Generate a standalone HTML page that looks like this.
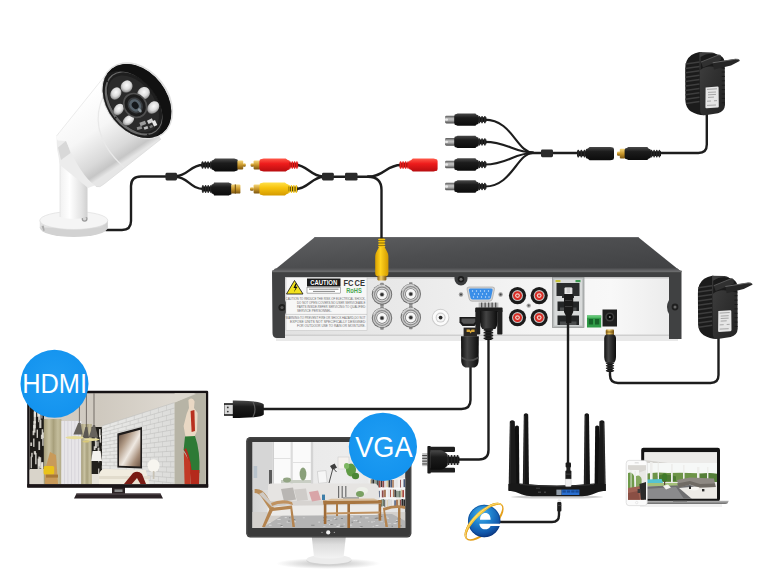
<!DOCTYPE html>
<html>
<head>
<meta charset="utf-8">
<title>DVR connection diagram</title>
<style>
html,body{margin:0;padding:0;background:#fff;}
body{width:762px;height:572px;overflow:hidden;font-family:"Liberation Sans",sans-serif;}
svg{display:block;position:absolute;left:0;top:0;}
</style>
</head>
<body>
<svg width="762" height="572" viewBox="0 0 762 572">
<defs>
  <linearGradient id="dvrTop" x1="0" y1="0" x2="1" y2="1">
    <stop offset="0" stop-color="#5f6062"/>
    <stop offset="0.45" stop-color="#4d4e50"/>
    <stop offset="1" stop-color="#3f4042"/>
  </linearGradient>
  <linearGradient id="silver" x1="0" y1="0" x2="1" y2="0">
    <stop offset="0" stop-color="#e2e2e2"/>
    <stop offset="0.3" stop-color="#e9e9e9"/>
    <stop offset="0.6" stop-color="#f3f3f3"/>
    <stop offset="0.85" stop-color="#f8f8f8"/>
    <stop offset="1" stop-color="#ececec"/>
  </linearGradient>
  <linearGradient id="blk" x1="0" y1="0" x2="0" y2="1">
    <stop offset="0" stop-color="#4a4a4a"/>
    <stop offset="0.35" stop-color="#1c1c1c"/>
    <stop offset="1" stop-color="#0c0c0c"/>
  </linearGradient>
  <linearGradient id="blkH" x1="0" y1="0" x2="1" y2="0">
    <stop offset="0" stop-color="#111"/>
    <stop offset="0.35" stop-color="#444"/>
    <stop offset="1" stop-color="#0c0c0c"/>
  </linearGradient>
  <linearGradient id="redG" x1="0" y1="0" x2="0" y2="1">
    <stop offset="0" stop-color="#ff5a4a"/>
    <stop offset="0.4" stop-color="#ee1c1c"/>
    <stop offset="1" stop-color="#b80d10"/>
  </linearGradient>
  <linearGradient id="yelG" x1="0" y1="0" x2="0" y2="1">
    <stop offset="0" stop-color="#ffe14a"/>
    <stop offset="0.4" stop-color="#f8c40e"/>
    <stop offset="1" stop-color="#d39a00"/>
  </linearGradient>
  <linearGradient id="yelH" x1="0" y1="0" x2="1" y2="0">
    <stop offset="0" stop-color="#d9a000"/>
    <stop offset="0.4" stop-color="#ffd21e"/>
    <stop offset="1" stop-color="#d39a00"/>
  </linearGradient>
  <linearGradient id="goldG" x1="0" y1="0" x2="0" y2="1">
    <stop offset="0" stop-color="#f6d77a"/>
    <stop offset="0.5" stop-color="#c8962a"/>
    <stop offset="1" stop-color="#7a5410"/>
  </linearGradient>
  <linearGradient id="goldH" x1="0" y1="0" x2="1" y2="0">
    <stop offset="0" stop-color="#8a5f12"/>
    <stop offset="0.4" stop-color="#f2cf6a"/>
    <stop offset="1" stop-color="#7a5410"/>
  </linearGradient>
  <linearGradient id="tipG" x1="0" y1="0" x2="0" y2="1">
    <stop offset="0" stop-color="#5a5a5a"/><stop offset="0.4" stop-color="#c4c4c4"/><stop offset="0.6" stop-color="#b0b0b0"/><stop offset="1" stop-color="#4a4a4a"/>
  </linearGradient>
  <radialGradient id="badge" cx="0.5" cy="0.45" r="0.6">
    <stop offset="0" stop-color="#1f9df3"/>
    <stop offset="1" stop-color="#1292ee"/>
  </radialGradient>
</defs>

<rect width="762" height="572" fill="#ffffff"/>


<!-- ================= DVR ================= -->
<g id="dvr">
  <!-- soft shadow below -->
  <rect x="276" y="336" width="402" height="5" fill="#e9e9e9"/>
  <!-- top face -->
  <polygon points="315,237 638,237 681.5,272 272,272" fill="url(#dvrTop)"/>
  <polygon points="315,237 638,237 639,238 314,238" fill="#66676a"/>
  <polygon points="275,268.6 677.6,268.6 681.5,272 272,272" fill="#58595b"/>
  <!-- front dark frame -->
  <path d="M272,271 H681.5 V339 H669 V336 H285 V338 H277 Q272.5,338 272.5,333 Z" fill="#404142"/>
  <rect x="272" y="270.4" width="409.5" height="1.8" fill="#6a6b6c"/>
  <!-- silver panel -->
  <rect x="285" y="277" width="384" height="59" fill="url(#silver)"/>
  <rect x="285" y="277" width="384" height="1.5" fill="#c9c9c9"/>
  <rect x="285" y="334.5" width="384" height="1.5" fill="#cfcfcf"/>
  <!-- side screws -->
  <circle cx="282" cy="307.5" r="3.6" fill="#1f1f1f"/><circle cx="282" cy="307.5" r="1.6" fill="#555"/>
  <circle cx="675" cy="307" r="3.4" fill="#1f1f1f"/><circle cx="675" cy="307" r="1.5" fill="#666"/>
  <path d="M669,300 q-4,7 0,14 Z" fill="#3b3c3d"/>
  <path d="M285,300 q4,7.5 0,15 Z" fill="#3b3c3d"/>

  <!-- label sticker -->
  <rect x="286" y="277.5" width="81" height="53" fill="#f7f7f7" stroke="#bdbdbd" stroke-width="0.5"/>
  <polygon points="294.5,280.5 303,294 286.5,294" fill="#f2e21c" stroke="#222" stroke-width="0.9" stroke-linejoin="round"/>
  <path d="M295.5,283.5 l-2,4.5 h2 l-1.6,4.2 l3.6,-5.4 h-2 l1.5,-3.3 z" fill="#111"/>
  <rect x="307" y="278.5" width="33.5" height="8" fill="#1a1a1a"/>
  <text x="323.7" y="285.3" font-family="Liberation Sans, sans-serif" font-weight="bold" font-size="6.6" fill="#fff" text-anchor="middle" textLength="27" lengthAdjust="spacingAndGlyphs">CAUTION</text>
  <rect x="307" y="287.3" width="33.5" height="5.8" fill="#fff" stroke="#444" stroke-width="0.4"/>
  <g stroke="#555" stroke-width="0.7">
    <line x1="309" y1="289.2" x2="338.5" y2="289.2"/><line x1="313" y1="291.4" x2="335" y2="291.4"/>
  </g>
  <!-- FC CE RoHS -->
  <text x="343.5" y="286.2" font-family="Liberation Sans, sans-serif" font-weight="bold" font-size="8.6" fill="#333" textLength="10" lengthAdjust="spacingAndGlyphs">FC</text>
  <text x="354.5" y="286.2" font-family="Liberation Sans, sans-serif" font-weight="bold" font-size="8.6" fill="#333" textLength="10.4" lengthAdjust="spacingAndGlyphs">CE</text>
  <text x="354" y="293.4" font-family="Liberation Sans, sans-serif" font-weight="bold" font-size="7.6" fill="#4aa651" text-anchor="middle" textLength="15.5" lengthAdjust="spacingAndGlyphs">RoHS</text>
  <!-- small print --><g font-family="Liberation Sans, sans-serif" font-size="3.7" fill="#6c6c6c"><text x="285.6" y="300.4" textLength="80" lengthAdjust="spacingAndGlyphs">CAUTION:TO REDUCE THE RISK OF ELECTRICAL SHOCK,</text><text x="297" y="304.4" textLength="68.4" lengthAdjust="spacingAndGlyphs">DO NOT OPEN COVERS.NO USER SERVICEABLE</text><text x="297" y="308.4" textLength="68.4" lengthAdjust="spacingAndGlyphs">PARTS INSIDE.REFER SERVICING TO QUALIFIED</text><text x="297" y="312.3" textLength="35" lengthAdjust="spacingAndGlyphs">SERVICE PERSONNEL.</text><text x="285.6" y="318.8" textLength="80" lengthAdjust="spacingAndGlyphs">WARNING:TO PREVENT FIRE OR SHOCK HAZARD,DO NOT</text><text x="290" y="322.7" textLength="75.4" lengthAdjust="spacingAndGlyphs">EXPOSE UNITS NOT SPECIFICALLY DESIGNED</text><text x="297" y="326.5" textLength="68.4" lengthAdjust="spacingAndGlyphs">FOR OUTDOOR USE TO RAIN OR MOISTURE.</text></g>
  <line x1="286" y1="314.4" x2="367" y2="314.4" stroke="#aaa" stroke-width="0.5"/>

  <!-- BNC connectors -->
  <g id="bnc"><g transform="translate(382,294.5) scale(1.1)"><rect x="-1.6" y="-10.6" width="3.2" height="3" rx="0.6" fill="#8a8a8a"/><rect x="-1.6" y="7.6" width="3.2" height="3" rx="0.6" fill="#8a8a8a"/><circle r="9.3" fill="#6f6f6f"/><circle r="8.4" fill="#c8c8c8"/><circle r="7.2" fill="#8b8b8b"/><circle r="6.2" fill="#dadada"/><circle r="5.2" fill="#777"/><circle r="4.5" fill="#f7f7f7"/><circle r="2.1" fill="#9a9a9a"/><circle r="1.4" fill="#2e2e2e"/><path d="M-8,-3 A8.5,8.5 0 0 1 3,-8" stroke="#fff" stroke-width="0.9" fill="none" opacity="0.7"/></g><g transform="translate(410.8,294) scale(1.1)"><rect x="-1.6" y="-10.6" width="3.2" height="3" rx="0.6" fill="#8a8a8a"/><rect x="-1.6" y="7.6" width="3.2" height="3" rx="0.6" fill="#8a8a8a"/><circle r="9.3" fill="#6f6f6f"/><circle r="8.4" fill="#c8c8c8"/><circle r="7.2" fill="#8b8b8b"/><circle r="6.2" fill="#dadada"/><circle r="5.2" fill="#777"/><circle r="4.5" fill="#f7f7f7"/><circle r="2.1" fill="#9a9a9a"/><circle r="1.4" fill="#2e2e2e"/><path d="M-8,-3 A8.5,8.5 0 0 1 3,-8" stroke="#fff" stroke-width="0.9" fill="none" opacity="0.7"/></g><g transform="translate(382,318) scale(1.1)"><rect x="-1.6" y="-10.6" width="3.2" height="3" rx="0.6" fill="#8a8a8a"/><rect x="-1.6" y="7.6" width="3.2" height="3" rx="0.6" fill="#8a8a8a"/><circle r="9.3" fill="#6f6f6f"/><circle r="8.4" fill="#c8c8c8"/><circle r="7.2" fill="#8b8b8b"/><circle r="6.2" fill="#dadada"/><circle r="5.2" fill="#777"/><circle r="4.5" fill="#f7f7f7"/><circle r="2.1" fill="#9a9a9a"/><circle r="1.4" fill="#2e2e2e"/><path d="M-8,-3 A8.5,8.5 0 0 1 3,-8" stroke="#fff" stroke-width="0.9" fill="none" opacity="0.7"/></g><g transform="translate(410.8,317.5) scale(1.1)"><rect x="-1.6" y="-10.6" width="3.2" height="3" rx="0.6" fill="#8a8a8a"/><rect x="-1.6" y="7.6" width="3.2" height="3" rx="0.6" fill="#8a8a8a"/><circle r="9.3" fill="#6f6f6f"/><circle r="8.4" fill="#c8c8c8"/><circle r="7.2" fill="#8b8b8b"/><circle r="6.2" fill="#dadada"/><circle r="5.2" fill="#777"/><circle r="4.5" fill="#f7f7f7"/><circle r="2.1" fill="#9a9a9a"/><circle r="1.4" fill="#2e2e2e"/><path d="M-8,-3 A8.5,8.5 0 0 1 3,-8" stroke="#fff" stroke-width="0.9" fill="none" opacity="0.7"/></g></g>
  <!-- white RCA -->
  <g transform="translate(440.6,317.6)">
    <circle r="8.8" fill="#cdcdcd"/><circle r="7.8" fill="#fbfbfb"/><circle r="5" fill="#cfcfcf"/><circle r="3.9" fill="#f6f6f6"/><circle r="1.9" fill="#2b2b2b"/>
  </g>
  <!-- top screw -->
  <path d="M454.5,277 h13 v2 a6.5,6.5 0 0 1 -13,0 z" fill="#3b3c3d"/>
  <circle cx="461" cy="279.3" r="3.2" fill="#1d1d1d"/><circle cx="461" cy="279.3" r="1.5" fill="#6a6a6a"/>
  <!-- VGA port -->
  <circle cx="461" cy="294.5" r="2.2" fill="#9a9a9a"/><circle cx="461" cy="294.5" r="1" fill="#444"/>
  <circle cx="500.6" cy="294.5" r="2.2" fill="#9a9a9a"/><circle cx="500.6" cy="294.5" r="1" fill="#444"/>
  <path d="M469,287 H492.5 Q495,287 494.4,289.5 L492.3,299 Q491.8,301.2 489.5,301.2 H472 Q469.7,301.2 469.2,299 L467.1,289.5 Q466.5,287 469,287 Z" fill="#d4d4d4" stroke="#9c9c9c" stroke-width="0.6"/>
  <path d="M470.3,288.6 H491.2 Q493,288.6 492.6,290.3 L491,297.8 Q490.6,299.6 488.8,299.6 H472.7 Q470.9,299.6 470.5,297.8 L468.9,290.3 Q468.5,288.6 470.3,288.6 Z" fill="#3a8ee8"/>
  <g fill="#cfe4fb">
    <circle cx="472.5" cy="291" r="0.7"/><circle cx="476.5" cy="291" r="0.7"/><circle cx="480.5" cy="291" r="0.7"/><circle cx="484.5" cy="291" r="0.7"/><circle cx="488.5" cy="291" r="0.7"/>
    <circle cx="474.5" cy="294" r="0.7"/><circle cx="478.5" cy="294" r="0.7"/><circle cx="482.5" cy="294" r="0.7"/><circle cx="486.5" cy="294" r="0.7"/>
    <circle cx="473.5" cy="297" r="0.7"/><circle cx="477.5" cy="297" r="0.7"/><circle cx="481.5" cy="297" r="0.7"/><circle cx="485.5" cy="297" r="0.7"/><circle cx="489" cy="297" r="0.7"/>
  </g>
  <!-- HDMI port -->
  <path d="M459.5,317 H477.5 V322.5 L474.5,326 H462.5 L459.5,322.5 Z" fill="#1a1a1a"/>
  <path d="M461.5,318.6 H475.5 V321.5 L473.5,323.8 H463.5 L461.5,321.5 Z" fill="#555"/>
  <!-- red RCA x4 -->
  <g id="rca4">
    <g transform="translate(517.5,295.6)"><circle r="8.6" fill="#1b1b1b"/><circle r="5.5" fill="#c4c4c4"/><circle r="4.4" fill="#d92a22"/><circle r="2.4" fill="#f3cdc7"/><circle r="1.2" fill="#c9372c"/></g>
    <g transform="translate(539.2,295.6)"><circle r="8.6" fill="#1b1b1b"/><circle r="5.5" fill="#c4c4c4"/><circle r="4.4" fill="#d92a22"/><circle r="2.4" fill="#f3cdc7"/><circle r="1.2" fill="#c9372c"/></g>
    <g transform="translate(517.5,317.6)"><circle r="8.6" fill="#1b1b1b"/><circle r="5.5" fill="#c4c4c4"/><circle r="4.4" fill="#d92a22"/><circle r="2.4" fill="#f3cdc7"/><circle r="1.2" fill="#c9372c"/></g>
    <g transform="translate(539.2,317.6)"><circle r="8.6" fill="#1b1b1b"/><circle r="5.5" fill="#c4c4c4"/><circle r="4.4" fill="#d92a22"/><circle r="2.4" fill="#f3cdc7"/><circle r="1.2" fill="#c9372c"/></g>
  </g>
  <circle cx="528.7" cy="305.6" r="2.2" fill="#a8a8a8"/><circle cx="528.7" cy="305.6" r="1" fill="#555"/>
  <!-- ethernet block -->
  <rect x="552.5" y="277.5" width="31.5" height="50" fill="#b9bcbc" stroke="#8e9191" stroke-width="0.7"/>
  <rect x="554.3" y="279.3" width="27.9" height="46.4" fill="#d8dada"/>
  <rect x="555.5" y="280" width="5" height="2.2" fill="#c8c43a"/><rect x="575.5" y="280" width="5" height="2.2" fill="#3d9b52"/>
  <path d="M556.5,283 H579.5 V296 H574 V298 H562 V296 H556.5 Z" fill="#2a2c2d"/>
  <path d="M557.5,301.5 H579 V311 H557.5 Z" fill="#232526"/>
  <path d="M557.5,315.5 H579 V325 H557.5 Z" fill="#232526"/>
  <rect x="560" y="307.5" width="16.5" height="3.5" fill="#4a4c4d"/>
  <rect x="560" y="321.5" width="16.5" height="3.5" fill="#4a4c4d"/>
  <!-- green terminal -->
  <rect x="587" y="315.5" width="14.2" height="12" fill="#2f9a47"/>
  <rect x="587" y="315.5" width="14.2" height="2.2" fill="#5fc573"/>
  <rect x="588.8" y="319" width="4.2" height="5.5" fill="#17632a"/><rect x="595" y="319" width="4.2" height="5.5" fill="#17632a"/>
  <!-- DC jack -->
  <rect x="602.5" y="309.5" width="14.5" height="17" fill="#1f1f1f"/>
  <circle cx="609.8" cy="317" r="4.6" fill="#3c3c3c"/><circle cx="609.8" cy="317" r="3" fill="#0c0c0c"/><circle cx="609.8" cy="317" r="1" fill="#8a8a8a"/>
</g>

<!-- ================= CABLES ================= -->
<g id="cables" fill="none" stroke="#1d1d1d" stroke-width="2.4" stroke-linecap="round" stroke-linejoin="round">
  <!-- camera cable -->
  <path d="M106,230 H122 Q131,230 131,221 V186 Q131,176.5 141,176.5 H167"/>
  <path d="M176,176 C188,176 190,165 203,165"/>
  <path d="M176,177 C188,177 190,189 204,189"/>
  <!-- after red/yellow plugs -->
  <path d="M296,165 C307,165 311,176.5 323,176.5"/>
  <path d="M296,189 C308,189 312,177 323,177"/>
  <path d="M333,176.7 H372"/>
  <path d="M368,176.7 C384,176.7 386,165 401,165"/>
  <path d="M368,176.7 Q381.5,176.7 381.5,190 V240"/>
  <!-- 4 way power splitter -->
  <path d="M485,119.6 C512,119.6 517,152.6 533,152.6" stroke-width="2.1"/>
  <path d="M485,141.9 C507,141.9 514,152.6 533,152.6" stroke-width="2.1"/>
  <path d="M485,164.5 C507,164.5 514,153 533,153" stroke-width="2.1"/>
  <path d="M485,186.5 C512,186.5 517,153 533,153" stroke-width="2.1"/>
  <path d="M528,153 H579"/>
  <!-- adapter 1 cable -->
  <path d="M658,153 H698.4 Q706.8,153 706.8,144.5 V114"/>
  <!-- DVR power cable -->
  <path d="M610,370 V375 Q610,383 618,383 H710.5 Q718.5,383 718.5,375 V338"/>
  <!-- HDMI cable -->
  <path d="M470.5,366 V400 Q470.5,409 461.5,409 H262"/>
  <!-- VGA cable -->
  <path d="M488.5,336 V450 Q488.5,459.5 479,459.5 H458"/>
  <!-- ethernet cable -->
  <path d="M568,305 V465"/>
  <!-- IE cable -->
  <path d="M559,509 V515 Q559,522 552,522 H500"/>
</g>
<!-- PLUGS_START --><!-- ================= PLUGS ================= -->
<g id="plugs">
<rect x="379.4" y="238.4" width="4.6" height="9.4" fill="#8a6a00"/><rect x="378.1" y="238.7" width="7.2" height="1.5" rx="0.9" fill="#f3c20e"/><rect x="378.1" y="241.1" width="7.2" height="1.5" rx="0.9" fill="#f3c20e"/><rect x="378.1" y="243.4" width="7.2" height="1.5" rx="0.9" fill="#f3c20e"/><rect x="378.1" y="245.8" width="7.2" height="1.5" rx="0.9" fill="#f3c20e"/>
<path d="M379,247 L376.4,252 Q375.2,254 375.2,257 L375.2,273 Q375.2,276.2 378,276.2 L385.6,276.2 Q388.4,276.2 388.4,273 L388.4,257 Q388.4,254 387.2,252 L384.6,247 Z" fill="url(#yelH)"/>
<rect x="377.4" y="275.8" width="9" height="4.6" rx="0.8" fill="url(#goldH)"/>
<rect x="564.6" y="287.6" width="7.6" height="8.6" rx="1" fill="#e9e9e9" stroke="#bdbdbd" stroke-width="0.4"/>
<rect x="566.6" y="288" width="3.6" height="5" fill="#cfcfcf"/>
<path d="M564,294 H573.2 V312 L571.4,316 V323 H566 V316 L564,312 Z" fill="#191919"/>
<rect x="565" y="300" width="7.2" height="1" fill="#3c3c3c"/><rect x="565" y="306" width="7.2" height="1" fill="#3c3c3c"/>
<rect x="605.8" y="329.6" width="8.2" height="5.4" rx="0.8" fill="url(#goldH)"/>
<rect x="605.8" y="331.6" width="8.2" height="0.8" fill="#6a4a10"/>
<path d="M606.4,334.4 H613.6 Q616,335 616,338 L616,357 Q616,360 614.4,362.6 H605.8 Q604.2,360 604.2,357 L604.2,338 Q604.2,335 606.4,334.4 Z" fill="url(#blkH)"/>
<rect x="607.3" y="362.2" width="5.4" height="9.8" fill="#111"/><rect x="605.8" y="362.5" width="8.4" height="1.5" rx="0.9" fill="#262626"/><rect x="605.8" y="364.9" width="8.4" height="1.5" rx="0.9" fill="#262626"/><rect x="605.8" y="367.4" width="8.4" height="1.5" rx="0.9" fill="#262626"/><rect x="605.8" y="369.9" width="8.4" height="1.5" rx="0.9" fill="#262626"/>
<rect x="478.6" y="302.6" width="19.8" height="5.4" fill="#bdbdbd"/>
<rect x="481" y="302.6" width="1.3" height="5" fill="#555"/>
<rect x="484.5" y="302.6" width="1.3" height="5" fill="#555"/>
<rect x="488" y="302.6" width="1.3" height="5" fill="#555"/>
<rect x="491.5" y="302.6" width="1.3" height="5" fill="#555"/>
<rect x="495" y="302.6" width="1.3" height="5" fill="#555"/>
<rect x="475.2" y="307.4" width="27.4" height="4.6" rx="1" fill="#1c1c1c"/>
<rect x="475.4" y="310" width="4.8" height="24.4" rx="1.2" fill="#202020"/>
<rect x="497.2" y="310" width="5.2" height="24.6" rx="1.2" fill="#202020"/>
<path d="M480,311 H497.4 V322 Q497.4,326 495.4,329 H482.2 Q480,326 480,322 Z" fill="url(#blkH)"/>
<rect x="485.3" y="328.6" width="6.3" height="11.4" fill="#111"/><rect x="483.5" y="328.9" width="9.8" height="1.8" rx="0.9" fill="#222"/><rect x="483.5" y="331.8" width="9.8" height="1.8" rx="0.9" fill="#222"/><rect x="483.5" y="334.6" width="9.8" height="1.8" rx="0.9" fill="#222"/><rect x="483.5" y="337.4" width="9.8" height="1.8" rx="0.9" fill="#222"/>
<path d="M463.6,327.6 H477 V336.6 H463.6 Z" fill="#2a2724"/>
<path d="M466.6,329.6 h3 l1,1.4 l1,-1.4 h3 v2.4 h-3 l-1,1.4 l-1,-1.4 h-3 z" fill="#d7a63a"/>
<path d="M461,336.2 H478.8 L478.6,361 Q478.4,366 474.6,367.6 H465.4 Q461.4,366 461.2,361 Z" fill="url(#blkH)"/>
<path d="M461.2,356.6 Q470,362 478.6,356.6 L478.6,358.6 Q470,364 461.2,358.6 Z" fill="#4a4a4a"/>
<rect x="224" y="403.2" width="9.4" height="12.6" fill="#1a1a1a"/>
<rect x="224.4" y="404.8" width="8.6" height="9.4" fill="#d9d9d9"/>
<circle cx="227.8" cy="407.4" r="0.9" fill="#333"/><circle cx="227.8" cy="411.6" r="0.9" fill="#333"/>
<path d="M232.8,400.6 Q240,400.4 254,401.6 Q262,402.6 263.8,404.4 L263.8,414.4 Q262,416.4 254,417.2 Q240,418.2 232.8,418 Z" fill="url(#blk)"/>
<path d="M253,402 Q257,409.4 253,417" stroke="#5a5a5a" stroke-width="1.2" fill="none"/>
<rect x="422.2" y="453" width="5.8" height="13.2" fill="#c4c4c4"/>
<rect x="422.2" y="455" width="5" height="1.1" fill="#4a4a4a"/>
<rect x="422.2" y="457.8" width="5" height="1.1" fill="#4a4a4a"/>
<rect x="422.2" y="460.6" width="5" height="1.1" fill="#4a4a4a"/>
<rect x="422.2" y="463.4" width="5" height="1.1" fill="#4a4a4a"/>
<rect x="427.4" y="446" width="3.4" height="27.6" rx="0.8" fill="#1a1a1a"/>
<rect x="430" y="446.8" width="25" height="5.2" rx="1.2" fill="#1e1e1e"/>
<rect x="430" y="467.8" width="25" height="4.8" rx="1.2" fill="#1e1e1e"/>
<path d="M430.4,450.2 H440 Q444,450.4 447.6,454.6 V465.4 Q444,469.6 440,469.8 H430.4 Z" fill="url(#blk)"/>
<rect x="447.2" y="456.7" width="12.2" height="6.5" fill="#111"/><rect x="447.5" y="454.9" width="1.9" height="10.2" rx="0.9" fill="#222"/><rect x="450.6" y="454.9" width="1.9" height="10.2" rx="0.9" fill="#222"/><rect x="453.6" y="454.9" width="1.9" height="10.2" rx="0.9" fill="#222"/><rect x="456.6" y="454.9" width="1.9" height="10.2" rx="0.9" fill="#222"/>
</g><!-- PLUGS_END -->
<!-- CONN_START --><!-- ================= CONNECTORS ================= -->
<g id="connectors">
<rect x="165.5" y="172.8" width="11.5" height="7.6" rx="1.4" fill="#2a2a2a"/>
<rect x="322" y="172.8" width="11.8" height="7.6" rx="1.4" fill="#2a2a2a"/>
<rect x="345" y="172.8" width="12.5" height="7.8" rx="1.4" fill="#2a2a2a"/>
<rect x="541" y="149.4" width="12" height="7.8" rx="1.4" fill="#2a2a2a"/>
<rect x="201.4" y="162.6" width="11.0" height="4.7" fill="#111"/><rect x="201.7" y="161.3" width="1.7" height="7.4" rx="0.9" fill="#262626"/><rect x="204.5" y="161.3" width="1.7" height="7.4" rx="0.9" fill="#262626"/><rect x="207.2" y="161.3" width="1.7" height="7.4" rx="0.9" fill="#262626"/><rect x="210.0" y="161.3" width="1.7" height="7.4" rx="0.9" fill="#262626"/>
<path d="M213.4,160.0 L215.0,158.6 L234.2,158.6 L235.8,159.1 Q238.0,159.1 238.0,161.3 L238.0,168.7 Q238.0,170.9 235.8,170.9 L234.2,171.4 L215.0,171.4 L213.4,170.0 Q211.2,170.0 211.2,167.8 L211.2,162.2 Q211.2,160.0 213.4,160.0 Z" fill="url(#blk)"/>
<rect x="237.4" y="160.6" width="5.8" height="8.8" rx="1" fill="url(#goldG)"/>
<rect x="242.8" y="163.2" width="3" height="3.6" rx="1.2" fill="url(#goldG)"/>
<rect x="201.8" y="186.4" width="10.6" height="5.1" fill="#111"/><rect x="202.1" y="185.0" width="1.6" height="8.0" rx="0.9" fill="#262626"/><rect x="204.8" y="185.0" width="1.6" height="8.0" rx="0.9" fill="#262626"/><rect x="207.4" y="185.0" width="1.6" height="8.0" rx="0.9" fill="#262626"/><rect x="210.1" y="185.0" width="1.6" height="8.0" rx="0.9" fill="#262626"/>
<path d="M213.4,184.0 L214.1,182.6 L228.9,182.6 L229.6,183.0 Q231.8,183.0 231.8,185.2 L231.8,192.8 Q231.8,195.0 229.6,195.0 L228.9,195.4 L214.1,195.4 L213.4,194.0 Q211.2,194.0 211.2,191.8 L211.2,186.2 Q211.2,184.0 213.4,184.0 Z" fill="url(#blk)"/>
<rect x="231.2" y="184.4" width="9.2" height="9.2" rx="1.2" fill="url(#goldG)"/>
<rect x="234.8" y="184.4" width="1" height="9.2" fill="#6a4a10"/>
<rect x="250.6" y="163.2" width="3.6" height="3.6" rx="1.2" fill="url(#goldG)"/>
<rect x="253.6" y="160.6" width="6.4" height="8.8" rx="1" fill="url(#goldG)"/>
<path d="M261.6,159.0 L263.7,158.4 L285.7,158.4 L287.8,160.0 Q290.0,160.0 290.0,162.2 L290.0,167.8 Q290.0,170.0 287.8,170.0 L285.7,171.6 L263.7,171.6 L261.6,171.0 Q259.4,171.0 259.4,168.8 L259.4,161.2 Q259.4,159.0 261.6,159.0 Z" fill="url(#redG)"/>
<rect x="289.0" y="162.6" width="9.2" height="4.9" fill="#9c0c0c"/><rect x="289.3" y="161.2" width="1.4" height="7.6" rx="0.9" fill="#e8201c"/><rect x="291.6" y="161.2" width="1.4" height="7.6" rx="0.9" fill="#e8201c"/><rect x="293.9" y="161.2" width="1.4" height="7.6" rx="0.9" fill="#e8201c"/><rect x="296.2" y="161.2" width="1.4" height="7.6" rx="0.9" fill="#e8201c"/>
<rect x="250" y="187.2" width="3.8" height="3.6" rx="1.2" fill="url(#goldG)"/>
<rect x="253.6" y="184.4" width="6.4" height="9.2" rx="1" fill="url(#goldG)"/>
<path d="M261.6,183.0 L263.5,182.4 L284.9,182.4 L286.8,184.0 Q289.0,184.0 289.0,186.2 L289.0,191.8 Q289.0,194.0 286.8,194.0 L284.9,195.6 L263.5,195.6 L261.6,195.0 Q259.4,195.0 259.4,192.8 L259.4,185.2 Q259.4,183.0 261.6,183.0 Z" fill="url(#yelG)"/>
<rect x="288.0" y="186.5" width="9.6" height="5.0" fill="#3a2c00"/><rect x="288.3" y="185.1" width="1.5" height="7.8" rx="0.9" fill="#f3c20e"/><rect x="290.7" y="185.1" width="1.5" height="7.8" rx="0.9" fill="#f3c20e"/><rect x="293.1" y="185.1" width="1.5" height="7.8" rx="0.9" fill="#f3c20e"/><rect x="295.5" y="185.1" width="1.5" height="7.8" rx="0.9" fill="#f3c20e"/>
<rect x="399.5" y="162.6" width="10.0" height="4.9" fill="#9c0c0c"/><rect x="399.8" y="161.2" width="1.6" height="7.6" rx="0.9" fill="#e8201c"/><rect x="402.3" y="161.2" width="1.6" height="7.6" rx="0.9" fill="#e8201c"/><rect x="404.8" y="161.2" width="1.6" height="7.6" rx="0.9" fill="#e8201c"/><rect x="407.3" y="161.2" width="1.6" height="7.6" rx="0.9" fill="#e8201c"/>
<path d="M411.0,160.3 L412.8,158.5 L433.6,158.5 L435.4,158.9 Q437.6,158.9 437.6,161.1 L437.6,168.9 Q437.6,171.1 435.4,171.1 L433.6,171.5 L412.8,171.5 L411.0,169.7 Q408.8,169.7 408.8,167.5 L408.8,162.5 Q408.8,160.3 411.0,160.3 Z" fill="url(#redG)"/>
<rect x="445" y="115.8" width="10.4" height="7.6" rx="1.4" fill="url(#tipG)"/>
<rect x="445" y="118.39999999999999" width="3" height="2.4" rx="1" fill="#e8e8e8"/>
<path d="M456.4,114.0 L457.6,113.4 L475.4,113.4 L476.6,114.8 Q478.8,114.8 478.8,117.0 L478.8,122.2 Q478.8,124.4 476.6,124.4 L475.4,125.8 L457.6,125.8 L456.4,125.2 Q454.2,125.2 454.2,123.0 L454.2,116.2 Q454.2,114.0 456.4,114.0 Z" fill="url(#blk)"/>
<rect x="478.2" y="117.2" width="8.2" height="4.7" fill="#111"/><rect x="478.5" y="115.9" width="1.7" height="7.4" rx="0.9" fill="#262626"/><rect x="481.2" y="115.9" width="1.7" height="7.4" rx="0.9" fill="#262626"/><rect x="484.0" y="115.9" width="1.7" height="7.4" rx="0.9" fill="#262626"/>
<rect x="445" y="138.1" width="10.4" height="7.6" rx="1.4" fill="url(#tipG)"/>
<rect x="445" y="140.70000000000002" width="3" height="2.4" rx="1" fill="#e8e8e8"/>
<path d="M456.4,136.3 L457.6,135.7 L475.4,135.7 L476.6,137.1 Q478.8,137.1 478.8,139.3 L478.8,144.5 Q478.8,146.7 476.6,146.7 L475.4,148.1 L457.6,148.1 L456.4,147.5 Q454.2,147.5 454.2,145.3 L454.2,138.5 Q454.2,136.3 456.4,136.3 Z" fill="url(#blk)"/>
<rect x="478.2" y="139.5" width="8.2" height="4.7" fill="#111"/><rect x="478.5" y="138.2" width="1.7" height="7.4" rx="0.9" fill="#262626"/><rect x="481.2" y="138.2" width="1.7" height="7.4" rx="0.9" fill="#262626"/><rect x="484.0" y="138.2" width="1.7" height="7.4" rx="0.9" fill="#262626"/>
<rect x="445" y="160.7" width="10.4" height="7.6" rx="1.4" fill="url(#tipG)"/>
<rect x="445" y="163.3" width="3" height="2.4" rx="1" fill="#e8e8e8"/>
<path d="M456.4,158.9 L457.6,158.3 L475.4,158.3 L476.6,159.7 Q478.8,159.7 478.8,161.9 L478.8,167.1 Q478.8,169.3 476.6,169.3 L475.4,170.7 L457.6,170.7 L456.4,170.1 Q454.2,170.1 454.2,167.9 L454.2,161.1 Q454.2,158.9 456.4,158.9 Z" fill="url(#blk)"/>
<rect x="478.2" y="162.1" width="8.2" height="4.7" fill="#111"/><rect x="478.5" y="160.8" width="1.7" height="7.4" rx="0.9" fill="#262626"/><rect x="481.2" y="160.8" width="1.7" height="7.4" rx="0.9" fill="#262626"/><rect x="484.0" y="160.8" width="1.7" height="7.4" rx="0.9" fill="#262626"/>
<rect x="445" y="182.7" width="10.4" height="7.6" rx="1.4" fill="url(#tipG)"/>
<rect x="445" y="185.3" width="3" height="2.4" rx="1" fill="#e8e8e8"/>
<path d="M456.4,180.9 L457.6,180.3 L475.4,180.3 L476.6,181.7 Q478.8,181.7 478.8,183.9 L478.8,189.1 Q478.8,191.3 476.6,191.3 L475.4,192.7 L457.6,192.7 L456.4,192.1 Q454.2,192.1 454.2,189.9 L454.2,183.1 Q454.2,180.9 456.4,180.9 Z" fill="url(#blk)"/>
<rect x="478.2" y="184.1" width="8.2" height="4.7" fill="#111"/><rect x="478.5" y="182.8" width="1.7" height="7.4" rx="0.9" fill="#262626"/><rect x="481.2" y="182.8" width="1.7" height="7.4" rx="0.9" fill="#262626"/><rect x="484.0" y="182.8" width="1.7" height="7.4" rx="0.9" fill="#262626"/>
<rect x="577.0" y="151.2" width="9.4" height="4.9" fill="#111"/><rect x="577.3" y="149.8" width="1.9" height="7.6" rx="0.9" fill="#262626"/><rect x="580.4" y="149.8" width="1.9" height="7.6" rx="0.9" fill="#262626"/><rect x="583.6" y="149.8" width="1.9" height="7.6" rx="0.9" fill="#262626"/>
<path d="M587.8,148.5 L589.6,146.9 L610.0,146.9 L611.8,147.2 Q614.0,147.2 614.0,149.4 L614.0,157.8 Q614.0,160.0 611.8,160.0 L610.0,160.3 L589.6,160.3 L587.8,158.7 Q585.6,158.7 585.6,156.5 L585.6,150.7 Q585.6,148.5 587.8,148.5 Z" fill="url(#blk)"/>
<rect x="617" y="151.6" width="3.6" height="4.2" rx="1.2" fill="url(#goldG)"/>
<rect x="619.8" y="148.8" width="5.4" height="9.8" rx="1" fill="url(#goldG)"/>
<path d="M626.8,147.9 L628.3,147.1 L647.3,147.1 L648.8,148.7 Q651.0,148.7 651.0,150.9 L651.0,156.3 Q651.0,158.5 648.8,158.5 L647.3,160.1 L628.3,160.1 L626.8,159.3 Q624.6,159.3 624.6,157.1 L624.6,150.1 Q624.6,147.9 626.8,147.9 Z" fill="url(#blk)"/>
<rect x="650.4" y="151.2" width="10.6" height="4.9" fill="#111"/><rect x="650.7" y="149.8" width="1.6" height="7.6" rx="0.9" fill="#262626"/><rect x="653.3" y="149.8" width="1.6" height="7.6" rx="0.9" fill="#262626"/><rect x="656.0" y="149.8" width="1.6" height="7.6" rx="0.9" fill="#262626"/><rect x="658.6" y="149.8" width="1.6" height="7.6" rx="0.9" fill="#262626"/>
</g><!-- CONN_END -->
<!-- CAM_START --><!-- ================= CAMERA ================= -->
<g id="camera">
  <defs>
    <linearGradient id="camBody" gradientUnits="userSpaceOnUse" x1="85" y1="95" x2="128" y2="160">
      <stop offset="0" stop-color="#ffffff"/>
      <stop offset="0.45" stop-color="#f6f6f6"/>
      <stop offset="0.8" stop-color="#d9d9d9"/>
      <stop offset="0.93" stop-color="#c6c6c6"/>
      <stop offset="1" stop-color="#e6e6e6"/>
    </linearGradient>
    <linearGradient id="camArm" x1="0" y1="0" x2="1" y2="0">
      <stop offset="0" stop-color="#f1f1f1"/>
      <stop offset="0.35" stop-color="#ffffff"/>
      <stop offset="0.8" stop-color="#e2e2e2"/>
      <stop offset="1" stop-color="#cfcfcf"/>
    </linearGradient>
    <linearGradient id="camBase" x1="0" y1="0" x2="1" y2="0">
      <stop offset="0" stop-color="#e0e0e0"/>
      <stop offset="0.3" stop-color="#f4f4f4"/>
      <stop offset="0.75" stop-color="#e6e6e6"/>
      <stop offset="1" stop-color="#cdcdcd"/>
    </linearGradient>
    <clipPath id="hoodclip"><ellipse cx="137" cy="101" rx="41" ry="29.6"/></clipPath>
    <radialGradient id="led" cx="0.45" cy="0.4" r="0.6">
      <stop offset="0" stop-color="#fbfbfb"/>
      <stop offset="0.55" stop-color="#dcdcdc"/>
      <stop offset="0.85" stop-color="#a4a4a4"/>
      <stop offset="1" stop-color="#5a5a5a"/>
    </radialGradient>
  </defs>
  <!-- base -->
  <ellipse cx="73.8" cy="227.5" rx="34" ry="9.5" fill="#d2d2d2"/>
  <rect x="39.8" y="220.5" width="68" height="7" fill="url(#camBase)"/>
  <ellipse cx="73.8" cy="220.5" rx="34" ry="9" fill="#f5f5f5" stroke="#dadada" stroke-width="0.6"/>
  <circle cx="84.6" cy="218.8" r="3" fill="#9b9b9b"/><circle cx="84.6" cy="218.8" r="1.7" fill="#d6d6d6"/>
  <path d="M41.5,226 l2,5 l1.2,-0.4 l-1,-5 z" fill="#aaa"/>
  <!-- arm -->
  <path d="M60,160 L60,217 Q73.5,221 87.5,217 L87.5,184 Z" fill="url(#camArm)"/>
  <path d="M60,160 L60,217" stroke="#e2e2e2" stroke-width="0.8" fill="none"/>
  <!-- bracket under body -->
  <path d="M56.5,136 L57,148.5 L60,165 L88,188 L104,182 L70,140 Z" fill="#ececec"/>
  <path d="M58,147.5 L66.5,140.5 L70.5,153 L61,160 Z" fill="#d8d8d8"/>
  <!-- body -->
  <path d="M105.5,75 L56.5,136 Q56,139 58,140.5 L66,141 Q80,175 96,186.5 Q100,188 104,184 L161,139 L137,101 Z" fill="url(#camBody)"/>
  <path d="M105.5,75 L56.5,136" stroke="#e6e6e6" stroke-width="0.8" fill="none"/>
  <path d="M96,186.5 Q100,188 104,184 L161,139" stroke="#dcdcdc" stroke-width="0.8" fill="none"/>
  <!-- seam line on body -->
  <path d="M103,97 Q96,112 99,128 Q104,150 124,167" stroke="#e9e9e9" stroke-width="1.2" fill="none"/>
  <!-- hood / ring -->
  <g transform="rotate(52 137 101)">
    <ellipse cx="137" cy="100.6" rx="42.4" ry="31.2" fill="#dedede"/>
    <ellipse cx="137" cy="101" rx="41" ry="29.6" fill="#1b1b1b"/>
    <ellipse cx="137" cy="105" rx="36" ry="24" fill="#6a6a6a"/>
    <ellipse cx="137" cy="104.2" rx="34.8" ry="22.2" fill="#1e1e1e"/>
    <ellipse cx="137" cy="105.6" rx="32.4" ry="20.4" fill="#2a2a2a"/>
    <path fill-rule="evenodd" fill="#111" d="M96,101 A41,29.6 0 1 0 178,101 A41,29.6 0 1 0 96,101 Z M97.5,109.5 A39.5,27 0 1 0 176.5,109.5 A39.5,27 0 1 0 97.5,109.5 Z" clip-path="url(#hoodclip)"/>
    <circle cx="103.4" cy="112" r="0.9" fill="#222"/><circle cx="137" cy="128" r="0.9" fill="#222"/><circle cx="170" cy="113" r="0.9" fill="#222"/>
  </g>
  <!-- LEDs -->
  <g>
    <ellipse cx="126.6" cy="86.6" rx="5.8" ry="6.4" fill="url(#led)" transform="rotate(30 126.6 86.6)"/>
    <ellipse cx="115.8" cy="93.6" rx="5.2" ry="6.6" fill="url(#led)" transform="rotate(30 115.8 93.6)"/>
    <ellipse cx="143.6" cy="93.4" rx="6" ry="6.8" fill="url(#led)" transform="rotate(40 143.6 93.4)"/>
    <ellipse cx="153.2" cy="107.6" rx="5.4" ry="7" fill="url(#led)" transform="rotate(40 153.2 107.6)"/>
    <ellipse cx="118.6" cy="109.6" rx="4.6" ry="6.4" fill="url(#led)" transform="rotate(35 118.6 109.6)"/>
    <ellipse cx="128.4" cy="120.4" rx="4.4" ry="6.6" fill="url(#led)" transform="rotate(50 128.4 120.4)"/>
  </g>
  <!-- lens -->
  <g transform="rotate(52 135.2 105.4)">
    <ellipse cx="135.2" cy="105.4" rx="13.4" ry="11.6" fill="#505050"/>
    <ellipse cx="135.2" cy="105.4" rx="11.6" ry="10" fill="#1c1c1c"/>
    <ellipse cx="135.2" cy="105.4" rx="8.4" ry="7.2" fill="#3a3d40"/>
    <ellipse cx="135.2" cy="105.4" rx="6.6" ry="5.6" fill="#56626a"/>
    <ellipse cx="135.2" cy="105.4" rx="3.8" ry="3.2" fill="#15181a"/>
  </g>
  <ellipse cx="139.8" cy="110.4" rx="2.4" ry="1.4" fill="#8a949a" transform="rotate(50 139.8 110.4)"/>
  <!-- PCB bits -->
  <g fill="#9c9c9c">
    <rect x="140" y="121.6" width="6" height="3.6" transform="rotate(-20 143 124)"/>
    <rect x="147.4" y="119.4" width="5.4" height="3.8" fill="#d2d2d2" transform="rotate(-25 150 121)"/>
    <rect x="152.6" y="120.6" width="3.6" height="5.6" fill="#e6e6e6" transform="rotate(-25 154 123)"/>
    <rect x="137" y="126.4" width="5" height="2.8" fill="#8a8a8a" transform="rotate(-15 140 128)"/>
    <rect x="144" y="126.6" width="4" height="2.6" fill="#bdbdbd" transform="rotate(-20 146 128)"/>
    <rect x="149.4" y="125.4" width="3" height="2.4" fill="#777" transform="rotate(-25 151 126)"/>
  </g>
</g>
<!-- CAM_END -->
<!-- ADP_START --><!-- ================= ADAPTERS ================= -->
<defs>
  <linearGradient id="adpFront" x1="0" y1="0" x2="1" y2="1">
    <stop offset="0" stop-color="#404040"/>
    <stop offset="0.5" stop-color="#303030"/>
    <stop offset="1" stop-color="#242424"/>
  </linearGradient>
  <g id="adapter">
    <!-- side (ribbed) -->
    <path d="M699.5,52 Q690,53.5 686.6,61 Q685.2,64 685.2,70 L685.4,101 Q685.8,108 691,111.5 Q697,115.2 704,115.2 L702,52.2 Z" fill="#1b1b1b"/>
    <g stroke="#3e3e3e" stroke-width="1.5">
      <line x1="685.6" y1="64" x2="699.5" y2="62"/><line x1="685.4" y1="68.4" x2="699.5" y2="66.4"/><line x1="685.4" y1="72.8" x2="699.5" y2="70.8"/>
      <line x1="685.4" y1="77.2" x2="699.5" y2="75.2"/><line x1="685.4" y1="81.6" x2="699.5" y2="79.6"/><line x1="685.4" y1="86" x2="699.5" y2="84"/>
      <line x1="685.4" y1="90.4" x2="699.5" y2="88.4"/><line x1="685.4" y1="94.8" x2="699.5" y2="92.8"/><line x1="685.4" y1="99.2" x2="699.5" y2="97.2"/>
      <line x1="686" y1="103.6" x2="699.5" y2="101.6"/>
    </g>
    <!-- front face -->
    <path d="M699.4,52 L712,52.4 Q717,53 718,57 L724.8,68 L725,105 Q724.6,111.6 718,113.2 L705,115.2 Q700.5,115.4 700.2,111 Z" fill="url(#adpFront)"/>
    <g stroke="#1a1a1a" stroke-width="1">
      <line x1="721.8" y1="72" x2="724.8" y2="72"/><line x1="721.8" y1="76.4" x2="724.8" y2="76.4"/><line x1="721.8" y1="80.8" x2="724.8" y2="80.8"/>
      <line x1="721.8" y1="85.2" x2="724.8" y2="85.2"/><line x1="721.8" y1="89.6" x2="724.8" y2="89.6"/><line x1="721.8" y1="94" x2="724.8" y2="94"/>
      <line x1="721.8" y1="98.4" x2="724.8" y2="98.4"/><line x1="721.8" y1="102.8" x2="724.8" y2="102.8"/>
    </g>
    <!-- prong pedestal + prongs -->
    <path d="M700.5,57 Q707,52.5 716,54 Q724.5,56 724.6,62 L724.6,69 Q716,66 709,66.5 Q703,67 700.5,70 Z" fill="#1a1a1a"/>
    <path d="M701,62 L718.5,55 Q721,54.8 721.2,57 L721,60 L703,67.4 Z" fill="#303030"/>
    <path d="M701,62 L718.5,55 Q720.4,54.8 721,56" stroke="#5c5c5c" stroke-width="0.9" fill="none"/>
    <path d="M712.6,62.6 L735.5,59 Q740,58.8 739.6,61 L731,65.4 L714,69.6 Z" fill="#262626"/>
    <path d="M712.6,62.8 L735.5,59.2 Q738.6,59 739.6,60.4" stroke="#666" stroke-width="1" fill="none"/>
    <!-- label -->
    <path d="M705.6,87.4 L717.6,86.6 Q718.6,86.6 718.6,87.6 L718.8,106.4 Q718.8,107.4 717.8,107.5 L706.4,108.2 Q705.4,108.2 705.4,107.2 Z" fill="#e6e6e6"/>
    <g stroke="#8a8a8a" stroke-width="0.7">
      <line x1="707" y1="89.4" x2="717" y2="88.8"/><line x1="708" y1="92.4" x2="716" y2="92"/><line x1="708" y1="94.8" x2="716" y2="94.4"/>
      <line x1="708" y1="97.4" x2="714" y2="97.1"/><line x1="707" y1="101.2" x2="711" y2="101"/><line x1="714" y1="100.8" x2="717" y2="100.6"/>
      <line x1="707" y1="105.4" x2="716" y2="105"/>
    </g>
  </g>
</defs>
<use href="#adapter"/>
<use href="#adapter" transform="translate(12.7,223.7)"/>
<!-- ADP_END -->
<!-- TV_START --><!-- ================= TV ================= -->
<g id="tv">
<defs>
<clipPath id="tvclip"><rect x="29.6" y="393.2" width="176.2" height="91"/></clipPath>
<linearGradient id="tvCeil" x1="0" y1="0" x2="1" y2="0"><stop offset="0" stop-color="#d6d1c9"/><stop offset="0.4" stop-color="#cfc9bf"/><stop offset="0.8" stop-color="#ddd8d0"/><stop offset="1" stop-color="#d6d1c8"/></linearGradient>
<linearGradient id="tvCurt" x1="0" y1="0" x2="1" y2="0"><stop offset="0" stop-color="#a49c78"/><stop offset="0.3" stop-color="#c9c2a2"/><stop offset="0.55" stop-color="#a8a07c"/><stop offset="0.8" stop-color="#c4bd9c"/><stop offset="1" stop-color="#b1a985"/></linearGradient>
<linearGradient id="tvBrick" x1="0" y1="0" x2="1" y2="0"><stop offset="0" stop-color="#e9e9e7"/><stop offset="1" stop-color="#dcdcda"/></linearGradient>
<linearGradient id="tvPic" x1="0" y1="0" x2="1" y2="1"><stop offset="0" stop-color="#5a4436"/><stop offset="0.3" stop-color="#b09a86"/><stop offset="0.55" stop-color="#efe9e2"/><stop offset="0.8" stop-color="#a58c78"/><stop offset="1" stop-color="#6e5646"/></linearGradient>
</defs>
<path d="M112,487 H125 V494 H112 Z" fill="#2a2224"/>
<rect x="114.5" y="489.4" width="8" height="2.6" fill="#8a8a8a"/>
<path d="M76.5,493.6 H160.5 L163,498.6 H74 Z" fill="#2b2326"/>
<path d="M76.5,493.6 H160.5 L161,494.6 H76 Z" fill="#5a5054"/>
<rect x="27.2" y="390.8" width="181" height="96.8" rx="1.2" fill="#161214"/>
<g clip-path="url(#tvclip)">
<rect x="29" y="393" width="178" height="92" fill="url(#tvCeil)"/>
<rect x="29" y="470" width="178" height="15" fill="#e6e2da"/>
<rect x="29.6" y="406" width="14.4" height="63" fill="#1d1b18"/>
<rect x="33.1" y="438.5" width="1.4" height="8.4" fill="#e9e6df" opacity="0.85"/>
<rect x="38.1" y="411.7" width="0.8" height="10.5" fill="#e9e6df" opacity="0.85"/>
<rect x="33.4" y="421.1" width="2.4" height="7.2" fill="#e9e6df" opacity="0.85"/>
<rect x="40.9" y="434.7" width="1.8" height="4.4" fill="#e9e6df" opacity="0.85"/>
<rect x="38.3" y="456.6" width="1.6" height="9.7" fill="#e9e6df" opacity="0.85"/>
<rect x="38.7" y="411.6" width="2.0" height="8.3" fill="#e9e6df" opacity="0.85"/>
<rect x="33.9" y="409.7" width="2.2" height="7.3" fill="#e9e6df" opacity="0.85"/>
<rect x="39.3" y="457.2" width="1.9" height="11.3" fill="#e9e6df" opacity="0.85"/>
<rect x="35.1" y="452.9" width="1.5" height="11.4" fill="#e9e6df" opacity="0.85"/>
<rect x="41.4" y="413.5" width="1.0" height="5.0" fill="#e9e6df" opacity="0.85"/>
<rect x="42.6" y="432.4" width="1.8" height="5.7" fill="#e9e6df" opacity="0.85"/>
<rect x="36.6" y="429.6" width="1.4" height="8.3" fill="#e9e6df" opacity="0.85"/>
<rect x="37.6" y="458.6" width="1.9" height="11.4" fill="#e9e6df" opacity="0.85"/>
<rect x="41.1" y="463.5" width="1.9" height="4.5" fill="#e9e6df" opacity="0.85"/>
<rect x="41.2" y="462.0" width="2.2" height="8.1" fill="#e9e6df" opacity="0.85"/>
<rect x="39.3" y="419.8" width="2.1" height="8.2" fill="#e9e6df" opacity="0.85"/>
<rect x="33.7" y="411.6" width="2.2" height="11.9" fill="#e9e6df" opacity="0.85"/>
<rect x="31.2" y="452.8" width="1.5" height="4.4" fill="#e9e6df" opacity="0.85"/>
<rect x="33.8" y="451.1" width="2.2" height="3.4" fill="#e9e6df" opacity="0.85"/>
<rect x="38.0" y="410.5" width="1.9" height="6.0" fill="#e9e6df" opacity="0.85"/>
<rect x="41.5" y="462.9" width="1.6" height="12.0" fill="#e9e6df" opacity="0.85"/>
<rect x="34.0" y="412.3" width="1.8" height="3.3" fill="#e9e6df" opacity="0.85"/>
<rect x="32.6" y="430.8" width="1.8" height="4.4" fill="#e9e6df" opacity="0.85"/>
<rect x="30.6" y="456.6" width="1.3" height="11.6" fill="#e9e6df" opacity="0.85"/>
<rect x="41.7" y="429.2" width="1.5" height="7.7" fill="#e9e6df" opacity="0.85"/>
<rect x="38.4" y="441.4" width="1.7" height="8.6" fill="#e9e6df" opacity="0.85"/>
<rect x="42.2" y="436.4" width="1.5" height="9.5" fill="#e9e6df" opacity="0.85"/>
<rect x="33.1" y="424.9" width="2.4" height="7.7" fill="#e9e6df" opacity="0.85"/>
<rect x="37.1" y="408.6" width="1.5" height="8.2" fill="#e9e6df" opacity="0.85"/>
<rect x="30.3" y="442.5" width="1.8" height="3.5" fill="#e9e6df" opacity="0.85"/>
<rect x="29.6" y="393" width="15" height="13.5" fill="#cfcbc4"/>
<rect x="29.6" y="469" width="15" height="16" fill="#d9d4ca"/>
<rect x="43.8" y="419" width="17.6" height="66" fill="url(#tvCurt)"/>
<rect x="61.4" y="421" width="20" height="64" fill="#e7e5e8"/>
<rect x="64" y="421" width="0.8" height="64" fill="#d5d2d8"/>
<rect x="67.5" y="421" width="0.8" height="64" fill="#d5d2d8"/>
<rect x="71" y="421" width="0.8" height="64" fill="#d5d2d8"/>
<rect x="74.5" y="421" width="0.8" height="64" fill="#d5d2d8"/>
<rect x="78" y="421" width="0.8" height="64" fill="#d5d2d8"/>
<rect x="81.2" y="424" width="10.6" height="61" fill="url(#tvCurt)"/>
<rect x="91.6" y="427" width="10.4" height="47" fill="#22201c"/>
<rect x="97.6" y="447.6" width="1.8" height="5.5" fill="#e9e6df" opacity="0.85"/>
<rect x="98.4" y="459.0" width="0.8" height="3.4" fill="#e9e6df" opacity="0.85"/>
<rect x="98.1" y="468.5" width="1.2" height="6.2" fill="#e9e6df" opacity="0.85"/>
<rect x="97.3" y="441.4" width="1.3" height="5.2" fill="#e9e6df" opacity="0.85"/>
<rect x="95.3" y="453.0" width="1.2" height="5.6" fill="#e9e6df" opacity="0.85"/>
<rect x="99.0" y="429.1" width="1.6" height="8.1" fill="#e9e6df" opacity="0.85"/>
<rect x="94.8" y="437.3" width="1.9" height="4.7" fill="#e9e6df" opacity="0.85"/>
<rect x="93.7" y="446.3" width="1.8" height="3.7" fill="#e9e6df" opacity="0.85"/>
<rect x="94.9" y="442.0" width="2.0" height="6.1" fill="#e9e6df" opacity="0.85"/>
<rect x="99.7" y="435.1" width="1.3" height="7.6" fill="#e9e6df" opacity="0.85"/>
<path d="M45,470 L50,452 L56,455 L58,484 H45 Z" fill="#c89a5a"/>
<rect x="43.6" y="466" width="10.6" height="8.6" rx="1.5" fill="#e9c21a"/>
<rect x="46" y="474.6" width="12" height="3" fill="#a87838"/>
<polygon points="102,426 174.6,402.6 174.6,486 102,486" fill="url(#tvBrick)"/>
<line x1="102" y1="426.0" x2="174.6" y2="402.6" stroke="#b8b8b6" stroke-width="0.5"/>
<line x1="102" y1="429.3" x2="174.6" y2="408.0" stroke="#b8b8b6" stroke-width="0.5"/>
<line x1="102" y1="432.6" x2="174.6" y2="413.4" stroke="#b8b8b6" stroke-width="0.5"/>
<line x1="102" y1="435.9" x2="174.6" y2="418.7" stroke="#b8b8b6" stroke-width="0.5"/>
<line x1="102" y1="439.2" x2="174.6" y2="424.1" stroke="#b8b8b6" stroke-width="0.5"/>
<line x1="102" y1="442.5" x2="174.6" y2="429.5" stroke="#b8b8b6" stroke-width="0.5"/>
<line x1="102" y1="445.8" x2="174.6" y2="434.9" stroke="#b8b8b6" stroke-width="0.5"/>
<line x1="102" y1="449.1" x2="174.6" y2="440.2" stroke="#b8b8b6" stroke-width="0.5"/>
<line x1="102" y1="452.4" x2="174.6" y2="445.6" stroke="#b8b8b6" stroke-width="0.5"/>
<line x1="102" y1="455.6" x2="174.6" y2="451.0" stroke="#b8b8b6" stroke-width="0.5"/>
<line x1="102" y1="458.9" x2="174.6" y2="456.4" stroke="#b8b8b6" stroke-width="0.5"/>
<line x1="102" y1="462.2" x2="174.6" y2="461.7" stroke="#b8b8b6" stroke-width="0.5"/>
<line x1="102" y1="465.5" x2="174.6" y2="467.1" stroke="#b8b8b6" stroke-width="0.5"/>
<line x1="102" y1="468.8" x2="174.6" y2="472.5" stroke="#b8b8b6" stroke-width="0.5"/>
<line x1="102" y1="472.1" x2="174.6" y2="477.9" stroke="#b8b8b6" stroke-width="0.5"/>
<line x1="102" y1="475.4" x2="174.6" y2="483.2" stroke="#b8b8b6" stroke-width="0.5"/>
<line x1="102" y1="478.7" x2="174.6" y2="488.6" stroke="#b8b8b6" stroke-width="0.5"/>
<line x1="102" y1="482.0" x2="174.6" y2="494.0" stroke="#b8b8b6" stroke-width="0.5"/>
<line x1="102.0" y1="426.0" x2="102.0" y2="429.3" stroke="#c0c0be" stroke-width="0.45"/>
<line x1="110.1" y1="423.4" x2="110.1" y2="426.9" stroke="#c0c0be" stroke-width="0.45"/>
<line x1="118.1" y1="420.8" x2="118.1" y2="424.6" stroke="#c0c0be" stroke-width="0.45"/>
<line x1="126.2" y1="418.2" x2="126.2" y2="422.2" stroke="#c0c0be" stroke-width="0.45"/>
<line x1="134.3" y1="415.6" x2="134.3" y2="419.8" stroke="#c0c0be" stroke-width="0.45"/>
<line x1="142.3" y1="413.0" x2="142.3" y2="417.5" stroke="#c0c0be" stroke-width="0.45"/>
<line x1="150.4" y1="410.4" x2="150.4" y2="415.1" stroke="#c0c0be" stroke-width="0.45"/>
<line x1="158.5" y1="407.8" x2="158.5" y2="412.7" stroke="#c0c0be" stroke-width="0.45"/>
<line x1="166.5" y1="405.2" x2="166.5" y2="410.3" stroke="#c0c0be" stroke-width="0.45"/>
<line x1="106.0" y1="428.1" x2="106.0" y2="431.5" stroke="#c0c0be" stroke-width="0.45"/>
<line x1="114.1" y1="425.7" x2="114.1" y2="429.4" stroke="#c0c0be" stroke-width="0.45"/>
<line x1="122.2" y1="423.4" x2="122.2" y2="427.2" stroke="#c0c0be" stroke-width="0.45"/>
<line x1="130.2" y1="421.0" x2="130.2" y2="425.1" stroke="#c0c0be" stroke-width="0.45"/>
<line x1="138.3" y1="418.6" x2="138.3" y2="423.0" stroke="#c0c0be" stroke-width="0.45"/>
<line x1="146.4" y1="416.3" x2="146.4" y2="420.8" stroke="#c0c0be" stroke-width="0.45"/>
<line x1="154.4" y1="413.9" x2="154.4" y2="418.7" stroke="#c0c0be" stroke-width="0.45"/>
<line x1="162.5" y1="411.5" x2="162.5" y2="416.6" stroke="#c0c0be" stroke-width="0.45"/>
<line x1="170.6" y1="409.2" x2="170.6" y2="414.4" stroke="#c0c0be" stroke-width="0.45"/>
<line x1="102.0" y1="432.6" x2="102.0" y2="435.9" stroke="#c0c0be" stroke-width="0.45"/>
<line x1="110.1" y1="430.5" x2="110.1" y2="434.0" stroke="#c0c0be" stroke-width="0.45"/>
<line x1="118.1" y1="428.3" x2="118.1" y2="432.1" stroke="#c0c0be" stroke-width="0.45"/>
<line x1="126.2" y1="426.2" x2="126.2" y2="430.2" stroke="#c0c0be" stroke-width="0.45"/>
<line x1="134.3" y1="424.0" x2="134.3" y2="428.3" stroke="#c0c0be" stroke-width="0.45"/>
<line x1="142.3" y1="421.9" x2="142.3" y2="426.4" stroke="#c0c0be" stroke-width="0.45"/>
<line x1="150.4" y1="419.8" x2="150.4" y2="424.4" stroke="#c0c0be" stroke-width="0.45"/>
<line x1="158.5" y1="417.6" x2="158.5" y2="422.5" stroke="#c0c0be" stroke-width="0.45"/>
<line x1="166.5" y1="415.5" x2="166.5" y2="420.6" stroke="#c0c0be" stroke-width="0.45"/>
<line x1="106.0" y1="434.9" x2="106.0" y2="438.3" stroke="#c0c0be" stroke-width="0.45"/>
<line x1="114.1" y1="433.0" x2="114.1" y2="436.7" stroke="#c0c0be" stroke-width="0.45"/>
<line x1="122.2" y1="431.1" x2="122.2" y2="435.0" stroke="#c0c0be" stroke-width="0.45"/>
<line x1="130.2" y1="429.2" x2="130.2" y2="433.3" stroke="#c0c0be" stroke-width="0.45"/>
<line x1="138.3" y1="427.3" x2="138.3" y2="431.6" stroke="#c0c0be" stroke-width="0.45"/>
<line x1="146.4" y1="425.4" x2="146.4" y2="430.0" stroke="#c0c0be" stroke-width="0.45"/>
<line x1="154.4" y1="423.5" x2="154.4" y2="428.3" stroke="#c0c0be" stroke-width="0.45"/>
<line x1="162.5" y1="421.6" x2="162.5" y2="426.6" stroke="#c0c0be" stroke-width="0.45"/>
<line x1="170.6" y1="419.7" x2="170.6" y2="424.9" stroke="#c0c0be" stroke-width="0.45"/>
<line x1="102.0" y1="439.2" x2="102.0" y2="442.5" stroke="#c0c0be" stroke-width="0.45"/>
<line x1="110.1" y1="437.5" x2="110.1" y2="441.0" stroke="#c0c0be" stroke-width="0.45"/>
<line x1="118.1" y1="435.8" x2="118.1" y2="439.6" stroke="#c0c0be" stroke-width="0.45"/>
<line x1="126.2" y1="434.2" x2="126.2" y2="438.1" stroke="#c0c0be" stroke-width="0.45"/>
<line x1="134.3" y1="432.5" x2="134.3" y2="436.7" stroke="#c0c0be" stroke-width="0.45"/>
<line x1="142.3" y1="430.8" x2="142.3" y2="435.3" stroke="#c0c0be" stroke-width="0.45"/>
<line x1="150.4" y1="429.1" x2="150.4" y2="433.8" stroke="#c0c0be" stroke-width="0.45"/>
<line x1="158.5" y1="427.5" x2="158.5" y2="432.4" stroke="#c0c0be" stroke-width="0.45"/>
<line x1="166.5" y1="425.8" x2="166.5" y2="430.9" stroke="#c0c0be" stroke-width="0.45"/>
<line x1="106.0" y1="441.7" x2="106.0" y2="445.2" stroke="#c0c0be" stroke-width="0.45"/>
<line x1="114.1" y1="440.3" x2="114.1" y2="443.9" stroke="#c0c0be" stroke-width="0.45"/>
<line x1="122.2" y1="438.9" x2="122.2" y2="442.7" stroke="#c0c0be" stroke-width="0.45"/>
<line x1="130.2" y1="437.4" x2="130.2" y2="441.5" stroke="#c0c0be" stroke-width="0.45"/>
<line x1="138.3" y1="436.0" x2="138.3" y2="440.3" stroke="#c0c0be" stroke-width="0.45"/>
<line x1="146.4" y1="434.5" x2="146.4" y2="439.1" stroke="#c0c0be" stroke-width="0.45"/>
<line x1="154.4" y1="433.1" x2="154.4" y2="437.9" stroke="#c0c0be" stroke-width="0.45"/>
<line x1="162.5" y1="431.6" x2="162.5" y2="436.7" stroke="#c0c0be" stroke-width="0.45"/>
<line x1="170.6" y1="430.2" x2="170.6" y2="435.5" stroke="#c0c0be" stroke-width="0.45"/>
<line x1="102.0" y1="445.8" x2="102.0" y2="449.1" stroke="#c0c0be" stroke-width="0.45"/>
<line x1="110.1" y1="444.6" x2="110.1" y2="448.1" stroke="#c0c0be" stroke-width="0.45"/>
<line x1="118.1" y1="443.3" x2="118.1" y2="447.1" stroke="#c0c0be" stroke-width="0.45"/>
<line x1="126.2" y1="442.1" x2="126.2" y2="446.1" stroke="#c0c0be" stroke-width="0.45"/>
<line x1="134.3" y1="440.9" x2="134.3" y2="445.1" stroke="#c0c0be" stroke-width="0.45"/>
<line x1="142.3" y1="439.7" x2="142.3" y2="444.2" stroke="#c0c0be" stroke-width="0.45"/>
<line x1="150.4" y1="438.5" x2="150.4" y2="443.2" stroke="#c0c0be" stroke-width="0.45"/>
<line x1="158.5" y1="437.3" x2="158.5" y2="442.2" stroke="#c0c0be" stroke-width="0.45"/>
<line x1="166.5" y1="436.1" x2="166.5" y2="441.2" stroke="#c0c0be" stroke-width="0.45"/>
<line x1="106.0" y1="448.6" x2="106.0" y2="452.0" stroke="#c0c0be" stroke-width="0.45"/>
<line x1="114.1" y1="447.6" x2="114.1" y2="451.2" stroke="#c0c0be" stroke-width="0.45"/>
<line x1="122.2" y1="446.6" x2="122.2" y2="450.5" stroke="#c0c0be" stroke-width="0.45"/>
<line x1="130.2" y1="445.6" x2="130.2" y2="449.7" stroke="#c0c0be" stroke-width="0.45"/>
<line x1="138.3" y1="444.6" x2="138.3" y2="449.0" stroke="#c0c0be" stroke-width="0.45"/>
<line x1="146.4" y1="443.7" x2="146.4" y2="448.2" stroke="#c0c0be" stroke-width="0.45"/>
<line x1="154.4" y1="442.7" x2="154.4" y2="447.5" stroke="#c0c0be" stroke-width="0.45"/>
<line x1="162.5" y1="441.7" x2="162.5" y2="446.7" stroke="#c0c0be" stroke-width="0.45"/>
<line x1="170.6" y1="440.7" x2="170.6" y2="446.0" stroke="#c0c0be" stroke-width="0.45"/>
<line x1="102.0" y1="452.4" x2="102.0" y2="455.6" stroke="#c0c0be" stroke-width="0.45"/>
<line x1="110.1" y1="451.6" x2="110.1" y2="455.1" stroke="#c0c0be" stroke-width="0.45"/>
<line x1="118.1" y1="450.9" x2="118.1" y2="454.6" stroke="#c0c0be" stroke-width="0.45"/>
<line x1="126.2" y1="450.1" x2="126.2" y2="454.1" stroke="#c0c0be" stroke-width="0.45"/>
<line x1="134.3" y1="449.4" x2="134.3" y2="453.6" stroke="#c0c0be" stroke-width="0.45"/>
<line x1="142.3" y1="448.6" x2="142.3" y2="453.1" stroke="#c0c0be" stroke-width="0.45"/>
<line x1="150.4" y1="447.9" x2="150.4" y2="452.5" stroke="#c0c0be" stroke-width="0.45"/>
<line x1="158.5" y1="447.1" x2="158.5" y2="452.0" stroke="#c0c0be" stroke-width="0.45"/>
<line x1="166.5" y1="446.4" x2="166.5" y2="451.5" stroke="#c0c0be" stroke-width="0.45"/>
<line x1="106.0" y1="455.4" x2="106.0" y2="458.8" stroke="#c0c0be" stroke-width="0.45"/>
<line x1="114.1" y1="454.9" x2="114.1" y2="458.5" stroke="#c0c0be" stroke-width="0.45"/>
<line x1="122.2" y1="454.4" x2="122.2" y2="458.2" stroke="#c0c0be" stroke-width="0.45"/>
<line x1="130.2" y1="453.8" x2="130.2" y2="457.9" stroke="#c0c0be" stroke-width="0.45"/>
<line x1="138.3" y1="453.3" x2="138.3" y2="457.7" stroke="#c0c0be" stroke-width="0.45"/>
<line x1="146.4" y1="452.8" x2="146.4" y2="457.4" stroke="#c0c0be" stroke-width="0.45"/>
<line x1="154.4" y1="452.3" x2="154.4" y2="457.1" stroke="#c0c0be" stroke-width="0.45"/>
<line x1="162.5" y1="451.8" x2="162.5" y2="456.8" stroke="#c0c0be" stroke-width="0.45"/>
<line x1="170.6" y1="451.2" x2="170.6" y2="456.5" stroke="#c0c0be" stroke-width="0.45"/>
<line x1="102.0" y1="458.9" x2="102.0" y2="462.2" stroke="#c0c0be" stroke-width="0.45"/>
<line x1="110.1" y1="458.7" x2="110.1" y2="462.2" stroke="#c0c0be" stroke-width="0.45"/>
<line x1="118.1" y1="458.4" x2="118.1" y2="462.1" stroke="#c0c0be" stroke-width="0.45"/>
<line x1="126.2" y1="458.1" x2="126.2" y2="462.1" stroke="#c0c0be" stroke-width="0.45"/>
<line x1="134.3" y1="457.8" x2="134.3" y2="462.0" stroke="#c0c0be" stroke-width="0.45"/>
<line x1="142.3" y1="457.5" x2="142.3" y2="462.0" stroke="#c0c0be" stroke-width="0.45"/>
<line x1="150.4" y1="457.2" x2="150.4" y2="461.9" stroke="#c0c0be" stroke-width="0.45"/>
<line x1="158.5" y1="456.9" x2="158.5" y2="461.9" stroke="#c0c0be" stroke-width="0.45"/>
<line x1="166.5" y1="456.7" x2="166.5" y2="461.8" stroke="#c0c0be" stroke-width="0.45"/>
<line x1="106.0" y1="462.2" x2="106.0" y2="465.6" stroke="#c0c0be" stroke-width="0.45"/>
<line x1="114.1" y1="462.2" x2="114.1" y2="465.8" stroke="#c0c0be" stroke-width="0.45"/>
<line x1="122.2" y1="462.1" x2="122.2" y2="466.0" stroke="#c0c0be" stroke-width="0.45"/>
<line x1="130.2" y1="462.0" x2="130.2" y2="466.1" stroke="#c0c0be" stroke-width="0.45"/>
<line x1="138.3" y1="462.0" x2="138.3" y2="466.3" stroke="#c0c0be" stroke-width="0.45"/>
<line x1="146.4" y1="461.9" x2="146.4" y2="466.5" stroke="#c0c0be" stroke-width="0.45"/>
<line x1="154.4" y1="461.9" x2="154.4" y2="466.7" stroke="#c0c0be" stroke-width="0.45"/>
<line x1="162.5" y1="461.8" x2="162.5" y2="466.9" stroke="#c0c0be" stroke-width="0.45"/>
<line x1="170.6" y1="461.8" x2="170.6" y2="467.0" stroke="#c0c0be" stroke-width="0.45"/>
<line x1="102.0" y1="465.5" x2="102.0" y2="468.8" stroke="#c0c0be" stroke-width="0.45"/>
<line x1="110.1" y1="465.7" x2="110.1" y2="469.2" stroke="#c0c0be" stroke-width="0.45"/>
<line x1="118.1" y1="465.9" x2="118.1" y2="469.6" stroke="#c0c0be" stroke-width="0.45"/>
<line x1="126.2" y1="466.1" x2="126.2" y2="470.0" stroke="#c0c0be" stroke-width="0.45"/>
<line x1="134.3" y1="466.2" x2="134.3" y2="470.5" stroke="#c0c0be" stroke-width="0.45"/>
<line x1="142.3" y1="466.4" x2="142.3" y2="470.9" stroke="#c0c0be" stroke-width="0.45"/>
<line x1="150.4" y1="466.6" x2="150.4" y2="471.3" stroke="#c0c0be" stroke-width="0.45"/>
<line x1="158.5" y1="466.8" x2="158.5" y2="471.7" stroke="#c0c0be" stroke-width="0.45"/>
<line x1="166.5" y1="466.9" x2="166.5" y2="472.1" stroke="#c0c0be" stroke-width="0.45"/>
<line x1="106.0" y1="469.0" x2="106.0" y2="472.4" stroke="#c0c0be" stroke-width="0.45"/>
<line x1="114.1" y1="469.4" x2="114.1" y2="473.1" stroke="#c0c0be" stroke-width="0.45"/>
<line x1="122.2" y1="469.8" x2="122.2" y2="473.7" stroke="#c0c0be" stroke-width="0.45"/>
<line x1="130.2" y1="470.3" x2="130.2" y2="474.4" stroke="#c0c0be" stroke-width="0.45"/>
<line x1="138.3" y1="470.7" x2="138.3" y2="475.0" stroke="#c0c0be" stroke-width="0.45"/>
<line x1="146.4" y1="471.1" x2="146.4" y2="475.6" stroke="#c0c0be" stroke-width="0.45"/>
<line x1="154.4" y1="471.5" x2="154.4" y2="476.3" stroke="#c0c0be" stroke-width="0.45"/>
<line x1="162.5" y1="471.9" x2="162.5" y2="476.9" stroke="#c0c0be" stroke-width="0.45"/>
<line x1="170.6" y1="472.3" x2="170.6" y2="477.6" stroke="#c0c0be" stroke-width="0.45"/>
<line x1="102.0" y1="472.1" x2="102.0" y2="475.4" stroke="#c0c0be" stroke-width="0.45"/>
<line x1="110.1" y1="472.8" x2="110.1" y2="476.3" stroke="#c0c0be" stroke-width="0.45"/>
<line x1="118.1" y1="473.4" x2="118.1" y2="477.2" stroke="#c0c0be" stroke-width="0.45"/>
<line x1="126.2" y1="474.0" x2="126.2" y2="478.0" stroke="#c0c0be" stroke-width="0.45"/>
<line x1="134.3" y1="474.7" x2="134.3" y2="478.9" stroke="#c0c0be" stroke-width="0.45"/>
<line x1="142.3" y1="475.3" x2="142.3" y2="479.8" stroke="#c0c0be" stroke-width="0.45"/>
<line x1="150.4" y1="476.0" x2="150.4" y2="480.6" stroke="#c0c0be" stroke-width="0.45"/>
<line x1="158.5" y1="476.6" x2="158.5" y2="481.5" stroke="#c0c0be" stroke-width="0.45"/>
<line x1="166.5" y1="477.2" x2="166.5" y2="482.4" stroke="#c0c0be" stroke-width="0.45"/>
<line x1="106.0" y1="475.8" x2="106.0" y2="479.3" stroke="#c0c0be" stroke-width="0.45"/>
<line x1="114.1" y1="476.7" x2="114.1" y2="480.4" stroke="#c0c0be" stroke-width="0.45"/>
<line x1="122.2" y1="477.6" x2="122.2" y2="481.5" stroke="#c0c0be" stroke-width="0.45"/>
<line x1="130.2" y1="478.5" x2="130.2" y2="482.6" stroke="#c0c0be" stroke-width="0.45"/>
<line x1="138.3" y1="479.3" x2="138.3" y2="483.7" stroke="#c0c0be" stroke-width="0.45"/>
<line x1="146.4" y1="480.2" x2="146.4" y2="484.8" stroke="#c0c0be" stroke-width="0.45"/>
<line x1="154.4" y1="481.1" x2="154.4" y2="485.9" stroke="#c0c0be" stroke-width="0.45"/>
<line x1="162.5" y1="481.9" x2="162.5" y2="487.0" stroke="#c0c0be" stroke-width="0.45"/>
<line x1="170.6" y1="482.8" x2="170.6" y2="488.1" stroke="#c0c0be" stroke-width="0.45"/>
<line x1="102.0" y1="478.7" x2="102.0" y2="482.0" stroke="#c0c0be" stroke-width="0.45"/>
<line x1="110.1" y1="479.8" x2="110.1" y2="483.3" stroke="#c0c0be" stroke-width="0.45"/>
<line x1="118.1" y1="480.9" x2="118.1" y2="484.7" stroke="#c0c0be" stroke-width="0.45"/>
<line x1="126.2" y1="482.0" x2="126.2" y2="486.0" stroke="#c0c0be" stroke-width="0.45"/>
<line x1="134.3" y1="483.1" x2="134.3" y2="487.3" stroke="#c0c0be" stroke-width="0.45"/>
<line x1="142.3" y1="484.2" x2="142.3" y2="488.7" stroke="#c0c0be" stroke-width="0.45"/>
<line x1="150.4" y1="485.3" x2="150.4" y2="490.0" stroke="#c0c0be" stroke-width="0.45"/>
<line x1="158.5" y1="486.4" x2="158.5" y2="491.3" stroke="#c0c0be" stroke-width="0.45"/>
<line x1="166.5" y1="487.5" x2="166.5" y2="492.7" stroke="#c0c0be" stroke-width="0.45"/>
<path d="M92.6,451 H100.6 L102,461 H91.2 Z" fill="#f4f2ee"/>
<polygon points="117.4,433.6 142,427 142,468.6 117.4,467.6" fill="#1f1c1b"/>
<polygon points="119,435.6 140.4,429.8 140.4,466.6 119,465.8" fill="url(#tvPic)"/>
<polygon points="174.6,402.6 196,394 206,393 206,486 174.6,486" fill="#b7b4a6"/>
<polygon points="174.6,402.6 196,393 174.6,393" fill="#ddd8cf"/>
<path d="M188.4,400 Q192.6,396.6 194.6,401.6 L194,408 L197.6,413 L197,431 L194,437.4 H185.6 L183.6,426 L186.6,414 L189,408 Z" fill="#e9d8c4"/>
<path d="M190.6,411 L194.4,410 L195,431 L191.6,432 Z" fill="#b8301f"/>
<path d="M185,436.6 L195,436 Q200.4,451 199.4,473 L191.6,473 Q189.6,456 183.6,450 Z" fill="#2d7a35"/>
<path d="M184,450 Q190,458 190.6,485 L199,485 L199.4,470 L191.6,470 Q190,456 186,448 Z" fill="#b42a1c"/>
<path d="M183.8,452 L190,462 L190.5,485 L184.6,485 Z" fill="#c23a26"/>
<path d="M99,474 Q101,468 108,469 L146,470 L150,486 H99 Z" fill="#f1ecdf"/>
<path d="M99,476 H150 V479 H99 Z" fill="#e2dccd"/>
<path d="M124,484 L133,473 Q138,470 142,474 L146,484 Z" fill="#7a1c14"/>
<path d="M131,485 L137,478 L141,485 Z" fill="#e9e0cf"/>
<ellipse cx="153.6" cy="465.6" rx="6" ry="6.4" fill="#f7f5ef"/>
<rect x="152.8" y="471" width="1.6" height="8" fill="#c9c3b5"/>
<line x1="79.4" y1="393" x2="79.4" y2="424" stroke="#4c4640" stroke-width="0.7"/>
<line x1="86.4" y1="393" x2="86.4" y2="428" stroke="#4c4640" stroke-width="0.7"/>
<line x1="94" y1="393" x2="94" y2="426" stroke="#4c4640" stroke-width="0.7"/>
<path d="M78.2,423 H80.6 L82.6,434.6 H73.4 Z" fill="#66625c"/>
<path d="M85.4,427 H87.4 L89,438 H82.6 Z" fill="#5c5852"/>
<path d="M93,425 H95 L98.2,437.6 H88.6 Z" fill="#66625c"/>
<ellipse cx="74.6" cy="437.6" rx="9.2" ry="1.6" fill="#e7dc9a"/>
<ellipse cx="92" cy="439.6" rx="7.6" ry="1.4" fill="#e7dc9a"/>
<ellipse cx="86" cy="441.4" rx="3.4" ry="1" fill="#d9c878"/>
</g>
<rect x="27.2" y="484.2" width="181" height="3.4" fill="#1b1517"/>
</g><!-- TV_END -->
<!-- MON_START --><!-- ================= MONITOR ================= -->
<g id="monitor">
<defs>
<clipPath id="monclip"><rect x="252.4" y="442" width="152.8" height="86"/></clipPath>
<linearGradient id="monNeck" x1="0" y1="0" x2="0" y2="1"><stop offset="0" stop-color="#bdbdbd"/><stop offset="0.35" stop-color="#dedede"/><stop offset="1" stop-color="#f3f3f3"/></linearGradient>
<radialGradient id="monShadow" cx="0.5" cy="0.5" r="0.5"><stop offset="0" stop-color="#bfbfbf"/><stop offset="0.6" stop-color="#e4e4e4"/><stop offset="1" stop-color="#ffffff"/></radialGradient>
<linearGradient id="monWall" x1="0" y1="0" x2="1" y2="0"><stop offset="0" stop-color="#d2d2d2"/><stop offset="0.2" stop-color="#e9e9e9"/><stop offset="0.6" stop-color="#ececec"/><stop offset="1" stop-color="#e2e2e2"/></linearGradient>
</defs>
<ellipse cx="328" cy="563.5" rx="52" ry="5.5" fill="url(#monShadow)"/>
<ellipse cx="329" cy="560.6" rx="22.4" ry="5" fill="#d0d0d0"/>
<ellipse cx="329" cy="559.4" rx="22.4" ry="4.8" fill="#ececec"/>
<path d="M311.8,537 H345.8 L343.6,557 Q329,560 314,557 Z" fill="url(#monNeck)"/>
<rect x="246.2" y="437" width="165.2" height="100.4" rx="4.2" fill="#3a3a3a"/>
<rect x="247" y="437.8" width="163.6" height="98.8" rx="3.6" fill="none" stroke="#4e4e4e" stroke-width="0.8"/>
<g clip-path="url(#monclip)">
<rect x="252" y="441.6" width="154" height="87" fill="url(#monWall)"/>
<rect x="272.4" y="442" width="40" height="42" fill="#fafafa"/>
<rect x="290.6" y="442" width="2.2" height="42" fill="#dcdcdc"/>
<rect x="272.4" y="442" width="1.6" height="42" fill="#d0d0d0"/>
<rect x="310.8" y="442" width="2.4" height="42" fill="#d4d4d4"/>
<rect x="274" y="458" width="16.6" height="0.9" fill="#dedede"/>
<rect x="292.8" y="462" width="18" height="0.9" fill="#dedede"/>
<rect x="252.4" y="442" width="20" height="48" fill="#d6d6d6"/>
<rect x="253.6" y="466" width="3.6" height="12" fill="#b9c3cc"/>
<rect x="269" y="470" width="3" height="14" fill="#5b5b5b"/>
<rect x="281" y="480" width="30" height="3.4" fill="#c9cec4"/>
<ellipse cx="303" cy="474" rx="3.4" ry="6.5" fill="#8aa07a"/>
<ellipse cx="287" cy="480" rx="4" ry="2.4" fill="#93a584"/>
<rect x="318" y="471" width="8.6" height="12" fill="#f6f6f6" stroke="#bbb" stroke-width="0.5" transform="rotate(-6 322 477)"/>
<rect x="338" y="457" width="11" height="12" fill="#f4f1ee" stroke="#c8c8c8" stroke-width="0.5"/>
<path d="M329,483 L333,468 L336.5,472" stroke="#3c3c3c" stroke-width="0.9" fill="none"/>
<path d="M330,466 l4.6,-2.6 l2.4,4.4 l-4.6,2 z" fill="#3e3e3e"/>
<ellipse cx="351" cy="470" rx="5" ry="6.4" fill="#5e9a44"/>
<ellipse cx="355.5" cy="476" rx="3.6" ry="3.2" fill="#4b8636"/>
<ellipse cx="346.6" cy="466" rx="2.6" ry="3" fill="#7db661"/>
<rect x="368.6" y="478" width="37" height="28" fill="#efefef"/>
<rect x="370.0" y="479.6" width="1.3" height="8.0" fill="#d9c9a0"/>
<rect x="371.5" y="479.1" width="1.0" height="8.0" fill="#2a2a2a"/>
<rect x="372.7" y="479.3" width="1.6" height="8.0" fill="#2a2a2a"/>
<rect x="374.6" y="479.1" width="1.0" height="8.0" fill="#6a7a6a"/>
<rect x="375.8" y="479.1" width="1.0" height="8.0" fill="#6a7a6a"/>
<rect x="377.1" y="479.9" width="1.6" height="8.0" fill="#3a3a3a"/>
<rect x="378.9" y="479.9" width="1.6" height="8.0" fill="#a8483e"/>
<rect x="380.8" y="479.1" width="1.4" height="8.0" fill="#3a3a3a"/>
<rect x="382.4" y="479.6" width="1.9" height="8.0" fill="#8d4a4a"/>
<rect x="384.6" y="479.5" width="1.5" height="8.0" fill="#dadada"/>
<rect x="386.4" y="479.2" width="1.9" height="8.0" fill="#d9c9a0"/>
<rect x="388.5" y="479.6" width="1.6" height="8.0" fill="#3a3a3a"/>
<rect x="390.4" y="479.8" width="1.6" height="8.0" fill="#4a5a7a"/>
<rect x="392.2" y="480.0" width="1.6" height="8.0" fill="#a87a5a"/>
<rect x="394.1" y="479.7" width="1.4" height="8.0" fill="#e6e6e6"/>
<rect x="395.7" y="479.4" width="2.0" height="8.0" fill="#e6e6e6"/>
<rect x="398.0" y="480.2" width="1.9" height="8.0" fill="#efefef"/>
<rect x="400.1" y="479.8" width="1.0" height="8.0" fill="#8d4a4a"/>
<rect x="401.3" y="479.7" width="2.0" height="8.0" fill="#efefef"/>
<rect x="403.5" y="479.2" width="1.6" height="8.0" fill="#4a5a7a"/>
<rect x="370.0" y="489.6" width="1.4" height="7.6" fill="#e6e6e6"/>
<rect x="371.7" y="490.8" width="1.5" height="7.6" fill="#a8483e"/>
<rect x="373.4" y="490.3" width="1.0" height="7.6" fill="#2a2a2a"/>
<rect x="374.6" y="489.9" width="2.0" height="7.6" fill="#e6e6e6"/>
<rect x="376.8" y="490.3" width="1.3" height="7.6" fill="#a87a5a"/>
<rect x="378.4" y="490.8" width="1.4" height="7.6" fill="#4a5a7a"/>
<rect x="380.1" y="489.5" width="1.5" height="7.6" fill="#f0f0f0"/>
<rect x="381.8" y="490.4" width="1.8" height="7.6" fill="#8d4a4a"/>
<rect x="383.8" y="489.8" width="2.1" height="7.6" fill="#a87a5a"/>
<rect x="386.2" y="489.9" width="1.4" height="7.6" fill="#f0f0f0"/>
<rect x="387.8" y="489.7" width="2.0" height="7.6" fill="#e6e6e6"/>
<rect x="390.1" y="489.7" width="1.0" height="7.6" fill="#a8483e"/>
<rect x="391.4" y="489.8" width="1.2" height="7.6" fill="#efefef"/>
<rect x="392.9" y="489.5" width="1.4" height="7.6" fill="#a87a5a"/>
<rect x="394.5" y="489.8" width="1.4" height="7.6" fill="#2a2a2a"/>
<rect x="396.2" y="490.7" width="1.1" height="7.6" fill="#6a7a6a"/>
<rect x="397.5" y="490.9" width="1.2" height="7.6" fill="#6a7a6a"/>
<rect x="399.0" y="490.8" width="1.7" height="7.6" fill="#6a7a6a"/>
<rect x="400.9" y="489.6" width="1.1" height="7.6" fill="#d9c9a0"/>
<rect x="402.3" y="490.1" width="1.7" height="7.6" fill="#a8483e"/>
<rect x="370.0" y="499.4" width="1.6" height="7.0" fill="#8d4a4a"/>
<rect x="371.9" y="499.6" width="1.1" height="7.0" fill="#2a2a2a"/>
<rect x="373.2" y="500.0" width="1.6" height="7.0" fill="#d9c9a0"/>
<rect x="375.0" y="500.0" width="1.5" height="7.0" fill="#dadada"/>
<rect x="376.8" y="500.3" width="1.8" height="7.0" fill="#a87a5a"/>
<rect x="378.8" y="500.2" width="1.8" height="7.0" fill="#f0f0f0"/>
<rect x="380.9" y="499.6" width="1.4" height="7.0" fill="#6a7a6a"/>
<rect x="382.5" y="499.1" width="1.5" height="7.0" fill="#6a7a6a"/>
<rect x="384.3" y="499.7" width="1.0" height="7.0" fill="#3a3a3a"/>
<rect x="385.5" y="499.1" width="1.0" height="7.0" fill="#dadada"/>
<rect x="386.8" y="499.8" width="0.9" height="7.0" fill="#d9c9a0"/>
<rect x="387.9" y="499.0" width="2.0" height="7.0" fill="#dadada"/>
<rect x="390.2" y="499.6" width="1.9" height="7.0" fill="#dadada"/>
<rect x="392.4" y="499.9" width="1.7" height="7.0" fill="#e6e6e6"/>
<rect x="394.3" y="500.3" width="1.5" height="7.0" fill="#4a5a7a"/>
<rect x="396.0" y="499.7" width="2.1" height="7.0" fill="#a87a5a"/>
<rect x="398.4" y="499.2" width="1.3" height="7.0" fill="#d9c9a0"/>
<rect x="399.9" y="499.7" width="1.3" height="7.0" fill="#8d4a4a"/>
<rect x="401.5" y="499.0" width="1.7" height="7.0" fill="#2a2a2a"/>
<rect x="403.4" y="499.5" width="2.0" height="7.0" fill="#2a2a2a"/>
<rect x="368.6" y="487.6" width="37" height="1.4" fill="#f7f7f7"/><rect x="368.6" y="497.4" width="37" height="1.4" fill="#f7f7f7"/>
<rect x="252" y="512" width="154" height="17" fill="#d3d0cc"/>
<polygon points="262,528 283,515 392,514 405.4,521 405.4,528" fill="#b4b4b4"/>
<rect x="359.8" y="526.1" width="2.8" height="0.8" fill="#7f7f7f"/>
<rect x="399.1" y="525.5" width="2.7" height="0.8" fill="#7f7f7f"/>
<rect x="336.5" y="526.0" width="1.9" height="0.8" fill="#e1e1e1"/>
<rect x="338.4" y="524.6" width="1.8" height="0.8" fill="#e1e1e1"/>
<rect x="349.4" y="524.7" width="2.8" height="0.8" fill="#e1e1e1"/>
<rect x="375.6" y="525.0" width="2.8" height="0.8" fill="#e1e1e1"/>
<rect x="293.2" y="521.4" width="2.8" height="0.8" fill="#e1e1e1"/>
<rect x="373.5" y="521.2" width="1.5" height="0.8" fill="#cfcfcf"/>
<rect x="396.1" y="520.9" width="3.2" height="0.8" fill="#7f7f7f"/>
<rect x="395.9" y="520.0" width="1.5" height="0.8" fill="#e1e1e1"/>
<rect x="329.9" y="519.7" width="2.2" height="0.8" fill="#cfcfcf"/>
<rect x="380.3" y="521.3" width="2.6" height="0.8" fill="#cfcfcf"/>
<rect x="277.5" y="523.3" width="3.2" height="0.8" fill="#cfcfcf"/>
<rect x="368.0" y="521.3" width="1.4" height="0.8" fill="#cfcfcf"/>
<rect x="311.2" y="524.8" width="3.3" height="0.8" fill="#7f7f7f"/>
<rect x="329.0" y="524.2" width="1.2" height="0.8" fill="#e1e1e1"/>
<rect x="289.1" y="517.4" width="1.4" height="0.8" fill="#7f7f7f"/>
<rect x="375.7" y="517.6" width="3.0" height="0.8" fill="#7f7f7f"/>
<rect x="355.4" y="519.9" width="2.3" height="0.8" fill="#e1e1e1"/>
<rect x="268.9" y="524.8" width="2.7" height="0.8" fill="#e1e1e1"/>
<rect x="337.6" y="526.3" width="2.0" height="0.8" fill="#e1e1e1"/>
<rect x="378.4" y="518.3" width="1.6" height="0.8" fill="#7f7f7f"/>
<rect x="334.2" y="524.4" width="1.8" height="0.8" fill="#cfcfcf"/>
<rect x="323.0" y="517.4" width="3.2" height="0.8" fill="#7f7f7f"/>
<rect x="388.1" y="523.3" width="3.0" height="0.8" fill="#cfcfcf"/>
<rect x="323.2" y="526.1" width="2.2" height="0.8" fill="#cfcfcf"/>
<rect x="286.6" y="521.6" width="3.1" height="0.8" fill="#e1e1e1"/>
<rect x="348.8" y="524.5" width="1.4" height="0.8" fill="#e1e1e1"/>
<rect x="330.4" y="524.0" width="2.3" height="0.8" fill="#7f7f7f"/>
<rect x="358.8" y="521.8" width="2.2" height="0.8" fill="#e1e1e1"/>
<rect x="386.1" y="516.6" width="1.5" height="0.8" fill="#e1e1e1"/>
<rect x="371.0" y="521.6" width="2.3" height="0.8" fill="#e1e1e1"/>
<rect x="326.3" y="522.7" width="2.2" height="0.8" fill="#cfcfcf"/>
<rect x="293.1" y="519.0" width="2.2" height="0.8" fill="#7f7f7f"/>
<rect x="335.1" y="518.7" width="2.3" height="0.8" fill="#7f7f7f"/>
<rect x="391.5" y="525.8" width="1.5" height="0.8" fill="#7f7f7f"/>
<rect x="284.7" y="517.3" width="2.1" height="0.8" fill="#e1e1e1"/>
<rect x="357.3" y="520.7" width="1.5" height="0.8" fill="#7f7f7f"/>
<rect x="372.6" y="525.9" width="1.4" height="0.8" fill="#cfcfcf"/>
<rect x="353.5" y="520.0" width="1.6" height="0.8" fill="#e1e1e1"/>
<rect x="397.6" y="518.4" width="3.3" height="0.8" fill="#7f7f7f"/>
<rect x="386.4" y="517.8" width="2.6" height="0.8" fill="#e1e1e1"/>
<rect x="288.0" y="520.7" width="2.2" height="0.8" fill="#7f7f7f"/>
<rect x="323.3" y="519.9" width="1.2" height="0.8" fill="#7f7f7f"/>
<rect x="268.6" y="522.1" width="2.1" height="0.8" fill="#e1e1e1"/>
<rect x="318.3" y="521.7" width="1.7" height="0.8" fill="#e1e1e1"/>
<rect x="281.3" y="526.1" width="1.5" height="0.8" fill="#e1e1e1"/>
<rect x="277.4" y="519.0" width="3.2" height="0.8" fill="#e1e1e1"/>
<rect x="302.8" y="517.4" width="2.0" height="0.8" fill="#cfcfcf"/>
<rect x="377.4" y="518.8" width="1.4" height="0.8" fill="#cfcfcf"/>
<rect x="343.6" y="523.7" width="1.2" height="0.8" fill="#e1e1e1"/>
<rect x="374.7" y="518.0" width="3.1" height="0.8" fill="#7f7f7f"/>
<rect x="393.6" y="523.0" width="2.9" height="0.8" fill="#e1e1e1"/>
<rect x="348.7" y="518.4" width="1.6" height="0.8" fill="#e1e1e1"/>
<rect x="327.7" y="519.7" width="2.3" height="0.8" fill="#7f7f7f"/>
<rect x="350.6" y="516.5" width="2.7" height="0.8" fill="#e1e1e1"/>
<rect x="397.8" y="518.9" width="1.4" height="0.8" fill="#7f7f7f"/>
<rect x="351.5" y="521.8" width="1.5" height="0.8" fill="#7f7f7f"/>
<rect x="334.0" y="518.0" width="1.8" height="0.8" fill="#e1e1e1"/>
<rect x="401.3" y="516.4" width="1.0" height="0.8" fill="#cfcfcf"/>
<rect x="340.9" y="518.1" width="2.1" height="0.8" fill="#7f7f7f"/>
<rect x="280.5" y="525.0" width="2.0" height="0.8" fill="#7f7f7f"/>
<rect x="340.2" y="525.8" width="3.3" height="0.8" fill="#7f7f7f"/>
<rect x="359.5" y="526.8" width="1.8" height="0.8" fill="#cfcfcf"/>
<rect x="365.1" y="517.5" width="3.4" height="0.8" fill="#e1e1e1"/>
<rect x="379.8" y="516.2" width="2.5" height="0.8" fill="#7f7f7f"/>
<rect x="324.6" y="516.6" width="2.6" height="0.8" fill="#7f7f7f"/>
<rect x="384.4" y="523.4" width="1.7" height="0.8" fill="#e1e1e1"/>
<rect x="360.2" y="516.5" width="1.4" height="0.8" fill="#7f7f7f"/>
<rect x="326.6" y="518.9" width="3.3" height="0.8" fill="#cfcfcf"/>
<path d="M268,486 Q268,483.4 271,483.4 L374,483.6 Q378,483.8 378.6,488 L380,512 Q379,515 374,515 L272,515.4 Q267.6,515 267.6,511 Z" fill="#e6e4e2"/>
<path d="M268,501 L379,500 L380,505 L268,506 Z" fill="#d6d3d0"/>
<path d="M268,506 L380,505 L380,512 Q379,515 374,515 L272,515.4 Q267.6,515 267.6,511 Z" fill="#ecebe9"/>
<path d="M281,489 L293,487.6 L296,499.6 L284,501.4 Z" fill="#b9b6b3"/>
<path d="M294,489.6 L306,488.6 L308,500 L297,501 Z" fill="#cfccc9"/>
<path d="M309,492 L318,490.6 L321,500 L312,501.4 Z" fill="#d9a5a8"/>
<rect x="322" y="494.6" width="3" height="5.4" fill="#3d7ea8"/>
<rect x="338" y="486" width="1.2" height="12" fill="#6e6e6e"/>
<rect x="341.6" y="486" width="1.2" height="12" fill="#6e6e6e"/>
<rect x="345.2" y="486" width="1.2" height="12" fill="#6e6e6e"/>
<ellipse cx="362" cy="490.6" rx="6" ry="3.6" fill="#eef0ea"/>
<ellipse cx="360" cy="494" rx="4" ry="3" fill="#7aa062"/>
<rect x="343" y="497" width="16" height="3.4" fill="#a9a9a9"/>
<polygon points="323,500.6 381.6,500 382,503.6 323.4,504.4" fill="#a87640"/>
<polygon points="325,501 379,500.4 374,498.4 331,498.8" fill="#d9c0a0"/>
<rect x="323.8" y="504" width="2.6" height="20" fill="#a06c38"/>
<rect x="347.4" y="504" width="2.6" height="24" fill="#a06c38"/>
<rect x="378.6" y="503.6" width="2.6" height="17" fill="#a06c38"/>
<rect x="336" y="504" width="2" height="12" fill="#ad7d48"/>
<polygon points="326,512.6 380,511.4 380,513.4 326,514.6" fill="#c09260"/>
<path d="M254.6,489 Q262,488 267,496 L274,508 L270,510 L262,498 Q259,493 254.6,493 Z" fill="#b98c58"/>
<path d="M259,494 L272,507 L286,505 L283,501 L271,502 L263,492 Z" fill="#cfcac4"/>
<path d="M262,527 L270,508 L292,505.6 L295,527 L292.4,527 L290.4,509 L272.6,511 L265,527 Z" fill="#b48450"/>
<path d="M271,503 Q282,498 292,502 L293,505 Q282,501.6 272,506 Z" fill="#c09260"/>
<path d="M383,508 Q394,503.6 405.4,506 L405.4,509 Q394,506.6 385,510.6 L388,527 L385.4,527 Z" fill="#b48450"/>
<rect x="398" y="508" width="2.4" height="20" fill="#ad7d48"/>
</g>
<circle cx="328.2" cy="532.4" r="2.1" fill="#f2f2f2"/>
<circle cx="322" cy="532.4" r="0.7" fill="#9a9a9a"/><circle cx="334.4" cy="532.4" r="0.7" fill="#9a9a9a"/>
</g><!-- MON_END -->
<!-- ROUTER_START --><!-- ================= ROUTER ================= -->
<g id="router">
  <!-- antennas back -->
  <path d="M515,426.5 Q517,424.6 518.9,426.5 L519.4,486 H514.6 Z" fill="#101010"/>
  <path d="M595.2,426.5 Q597.2,424.6 599.2,426.5 L599.6,486 H594.6 Z" fill="#101010"/>
  <!-- outer antennas -->
  <path d="M509.8,421.5 Q512.2,419 514.8,421.5 L516.6,491 H508.6 Z" fill="#1a1a1a"/>
  <path d="M599.4,421.5 Q602,419 604.4,421.5 L605.8,491 H597.8 Z" fill="#1a1a1a"/>
  <!-- inner antennas -->
  <path d="M523.8,414.6 Q526,412 528.2,414.6 L529,486 H522.8 Z" fill="#161616"/>
  <path d="M584.6,414.6 Q586.8,412 589,414.6 L590,486 H583.8 Z" fill="#161616"/>
  <path d="M524.6,416 L524,484" stroke="#3a3a3a" stroke-width="0.7"/>
  <path d="M585.4,416 L585,484" stroke="#3a3a3a" stroke-width="0.7"/>
  <path d="M510.6,423 L509.8,488" stroke="#3a3a3a" stroke-width="0.7"/>
  <path d="M603.6,423 L604.6,488" stroke="#3a3a3a" stroke-width="0.7"/>
  <!-- shadow -->
  <ellipse cx="557" cy="497" rx="46" ry="1.6" fill="#cfcfcf"/>
  <!-- body -->
  <path d="M508.4,484 Q512,483 520,483.6 Q557,487.4 594,483.6 Q602,483 605.8,484 L605.8,490.6 Q598,491.6 592,494.6 Q588,496.2 582,496.2 L532,496.2 Q526,496.2 522,494.6 Q516,491.6 508.4,490.6 Z" fill="#181818"/>
  <path d="M520,484.4 Q557,488.2 594,484.4" stroke="#3c3c3c" stroke-width="0.8" fill="none"/>
  <!-- ports -->
  <rect x="556.4" y="489.6" width="5.2" height="5.4" fill="#8f9aa6"/>
  <rect x="561.6" y="489.6" width="17.8" height="5.4" fill="#2a6fd0"/>
  <g fill="#174a96"><rect x="562.4" y="490.4" width="3.4" height="2.2"/><rect x="566.8" y="490.4" width="3.4" height="2.2"/><rect x="571.2" y="490.4" width="3.4" height="2.2"/><rect x="575.4" y="490.4" width="3.4" height="2.2"/></g>
  <rect x="538" y="491.6" width="3" height="1.2" fill="#4a4a4a"/><rect x="544" y="491.6" width="2" height="1.2" fill="#4a4a4a"/>
  <rect x="536" y="487.6" width="4" height="1.4" fill="#333"/>
  <!-- ethernet plug into router -->
  <rect x="565.6" y="462.5" width="5.4" height="5" rx="1" fill="#1b1b1b"/>
  <rect x="566.4" y="467" width="4" height="4" fill="#222"/>
  <rect x="565.4" y="470.4" width="6" height="9" rx="1" fill="#1a1a1a"/>
  <rect x="566" y="473.6" width="4.8" height="1" fill="#444"/>
  <rect x="565.4" y="479" width="5.8" height="7.6" rx="1" fill="#efefef" stroke="#bdbdbd" stroke-width="0.4"/>
  <!-- IE cable plug -->
  <rect x="557.6" y="499.6" width="3.4" height="3" rx="0.8" fill="#e6e6e6"/>
  <rect x="557.2" y="502" width="4.2" height="9.6" rx="1" fill="#1d1d1d"/>
  <rect x="557.4" y="505" width="3.8" height="0.9" fill="#444"/>
</g>
<!-- ROUTER_END -->
<!-- IE_START --><!-- ================= IE LOGO ================= -->
<g id="ie">
  <defs>
    <radialGradient id="ieBlue" cx="0.42" cy="0.3" r="0.8">
      <stop offset="0" stop-color="#58b6ea"/>
      <stop offset="0.35" stop-color="#2186d2"/>
      <stop offset="0.7" stop-color="#1259ac"/>
      <stop offset="1" stop-color="#082a70"/>
    </radialGradient>
    <linearGradient id="ieGold" gradientUnits="userSpaceOnUse" x1="-26" y1="0" x2="26" y2="0">
      <stop offset="0" stop-color="#e09612"/>
      <stop offset="0.45" stop-color="#ffd640"/>
      <stop offset="1" stop-color="#e8a41a"/>
    </linearGradient>
    <clipPath id="ieFront"><rect x="-30" y="-20" width="60" height="20"/></clipPath>
  </defs>
  <!-- back ring -->
  <g transform="translate(484.1,521.7) rotate(-43.8)">
    <path fill-rule="evenodd" fill="#e4a01c" d="M-25,0 A25,10.8 0 1 0 25,0 A25,10.8 0 1 0 -25,0 Z M-23.6,0.3 A23.6,7.9 0 1 0 23.6,0.3 A23.6,7.9 0 1 0 -23.6,0.3 Z"/>
  </g>
  <!-- e body -->
  <circle cx="484.2" cy="521" r="16.2" fill="url(#ieBlue)"/>
  <circle cx="484.2" cy="521" r="15.8" fill="none" stroke="#0b2f72" stroke-width="0.8" opacity="0.55"/>
  <path d="M480,519.7 C480,515.4 482.4,513 485.4,513 C488.6,513 490.6,515.6 490.6,519.7 Z" fill="#ffffff"/>
  <path d="M479.4,523.7 L501.4,523.7 L501,525.9 L490.6,525.9 C489.6,528 487.6,529.3 485,529.3 C482,529.3 479.6,527 479.4,523.7 Z" fill="#ffffff"/>
  <!-- front ring arc -->
  <g transform="translate(484.1,521.7) rotate(-43.8)">
    <g clip-path="url(#ieFront)">
      <path fill-rule="evenodd" fill="url(#ieGold)" d="M-25,0 A25,10.8 0 1 0 25,0 A25,10.8 0 1 0 -25,0 Z M-23.6,0.3 A23.6,7.9 0 1 0 23.6,0.3 A23.6,7.9 0 1 0 -23.6,0.3 Z"/>
      <ellipse rx="24.3" ry="9.5" fill="none" stroke="#fff3a8" stroke-width="0.7" opacity="0.85"/>
    </g>
  </g>
</g>
<!-- IE_END -->
<!-- LAP_START --><!-- ================= LAPTOP + PHONE ================= -->
<g id="laptop">
  <defs>
    <clipPath id="lapclip"><rect x="644.4" y="452.2" width="72.6" height="46.2"/></clipPath>
    <clipPath id="phclip"><rect x="628" y="465.2" width="18" height="34.6"/></clipPath>
    <linearGradient id="lapBase" x1="0" y1="0" x2="0" y2="1"><stop offset="0" stop-color="#b9b9b9"/><stop offset="0.6" stop-color="#8c8c8c"/><stop offset="1" stop-color="#6a6a6a"/></linearGradient>
  </defs>
  <!-- faint reflection -->
  <rect x="640" y="504" width="82" height="3" fill="#f1f1f1"/>
  <!-- lid -->
  <rect x="641.2" y="447.8" width="78.8" height="53.4" rx="2.2" fill="#141414"/>
  <g clip-path="url(#lapclip)">
    <rect x="644" y="452" width="74" height="47" fill="#e9e9e7"/>
    <!-- ceiling -->
    <polygon points="644,452 718,452 718,466 700,468 668,463 644,460" fill="#ecebe9"/>
    <polygon points="644,460 668,463 700,468 718,466 718,470 700,471 668,466 644,463" fill="#d4d2ce"/>
    <!-- windows / sky -->
    <rect x="644" y="463" width="74" height="12" fill="#f6f8f7"/>
    <!-- greenery -->
    <path d="M644,474 Q655,471.6 668,473 Q690,472 718,474.6 V482 H644 Z" fill="#6d9448"/>
    <path d="M657,476 Q666,473 676,476.4 V481 H657 Z" fill="#4d7a33"/>
    <path d="M700,474 Q710,472 718,474 V482 H700 Z" fill="#557f39"/>
    <!-- window mullions -->
    <g fill="#eeeeec"><rect x="650" y="462" width="2.6" height="24"/><rect x="657.6" y="462.6" width="1.4" height="22"/><rect x="671" y="464" width="1.8" height="20"/><rect x="683" y="465" width="1.6" height="16"/><rect x="697" y="467" width="2.4" height="14"/><rect x="707" y="467" width="1.4" height="13"/></g>
    <!-- pool -->
    <polygon points="647,479.6 661.6,479 663,483 647,484" fill="#55c3d2"/>
    <!-- lawn -->
    <rect x="644" y="483" width="40" height="3.2" fill="#a5c07a"/>
    <!-- floor -->
    <polygon points="644,486.4 690,485 718,490 718,499 644,499" fill="#6e6e70"/>
    <polygon points="644,489 676,487 684,499 644,499" fill="#8a8a8c"/>
    <!-- rug -->
    <polygon points="679,488 714,485 718,487 718,499 692,499" fill="#eceae6"/>
    <!-- sofa -->
    <path d="M677,480 L690,477.6 L714,478.4 L715.6,487 L700,487.6 L690,484.4 L679,487.6 Z" fill="#8e8983"/>
    <path d="M677,483.6 L690,481 L700,484 L715,483.6 L715.6,487 L700,487.6 L690,484.4 L679,487.6 Z" fill="#6f6a64"/>
    <!-- table items -->
    <ellipse cx="694" cy="488.6" rx="5" ry="1.8" fill="#f7f6f3"/>
    <rect x="689" y="486.4" width="2" height="2.6" fill="#2b2b2b"/><rect x="702" y="489" width="2.4" height="2.4" fill="#2b2b2b"/>
    <!-- plant -->
    <ellipse cx="664.6" cy="477.6" rx="2.6" ry="4.4" fill="#3f7a2a"/>
    <rect x="664" y="481" width="1.2" height="4" fill="#5a4a3a"/>
    <!-- chairs -->
    <path d="M663,486 l5,-1.6 l3,3 l-5,2 z" fill="#f2f1ee"/>
  </g>
  <!-- base -->
  <path d="M635.6,500.8 H728.8 L727.6,503.2 Q727,504 725,504 H639.4 Q637.4,504 636.8,503.2 Z" fill="url(#lapBase)"/>
  <rect x="673" y="500.8" width="14" height="0.9" fill="#6f6f6f"/>
  <!-- phone -->
  <rect x="626.2" y="460.4" width="21" height="45.2" rx="2.9" fill="#fbfbfb" stroke="#d6d6d6" stroke-width="0.7"/>
  <g clip-path="url(#phclip)">
    <rect x="628" y="465" width="18" height="35" fill="#e9e9e6"/>
    <polygon points="628,465 646,465 646,470 638,473 628,469" fill="#d9d7d3"/>
    <rect x="628" y="470" width="11" height="20" fill="#f4f6f4"/>
    <path d="M628,473 Q632,471 634,476 L634.6,488 H628 Z" fill="#6f9a4a"/>
    <rect x="634.6" y="471" width="1.3" height="18" fill="#ececea"/><rect x="630.6" y="470" width="0.9" height="18" fill="#ececea"/>
    <path d="M636,476 Q640,474 641.6,479 L641.6,487 H636 Z" fill="#86a860"/>
    <polygon points="628,488 641,486 644,500 628,500" fill="#a06254"/>
    <polygon points="628,493 638,491 640,500 628,500" fill="#8a4f44"/>
    <path d="M639.4,484 L646,482 V500 H641 Z" fill="#2b2a2a"/>
    <rect x="637.6" y="489" width="3" height="4" fill="#3a3a3a"/>
  </g>
  <circle cx="636.7" cy="502.6" r="1.2" fill="none" stroke="#d0d0d0" stroke-width="0.4"/>
  <rect x="634.6" y="462.6" width="4.2" height="0.7" rx="0.3" fill="#c8c8c8"/>
</g>
<!-- LAP_END -->
<!-- BADGE_START -->
<g id="badges">
  <circle cx="54.5" cy="383.8" r="34" fill="url(#badge)"/>
  <text id="thdmi" x="54.6" y="392.7" font-family="Liberation Sans, sans-serif" font-size="27.6" fill="#ffffff" text-anchor="middle" textLength="64.8" lengthAdjust="spacingAndGlyphs">HDMI</text>
  <circle cx="382.9" cy="446.8" r="34.1" fill="url(#badge)"/>
  <text id="tvga" x="383.9" y="456.7" font-family="Liberation Sans, sans-serif" font-size="28.6" fill="#ffffff" text-anchor="middle" textLength="57.4" lengthAdjust="spacingAndGlyphs">VGA</text>
</g>
<!-- BADGE_END -->
</svg>
</body>
</html>
